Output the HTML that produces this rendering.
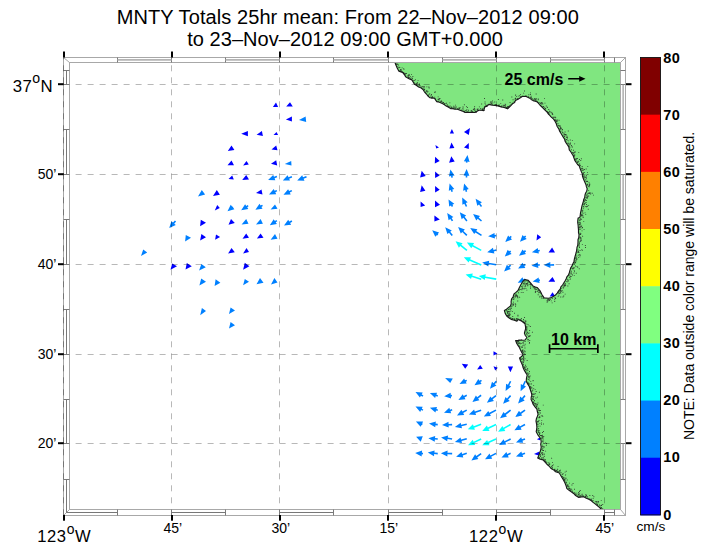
<!DOCTYPE html>
<html><head><meta charset="utf-8"><style>
html,body{margin:0;padding:0;background:#fff;}
body{width:703px;height:548px;position:relative;overflow:hidden;font-family:"Liberation Sans",sans-serif;color:#000;}
.t{position:absolute;white-space:nowrap;line-height:1;}
.sup{font-size:0.84em;position:relative;top:-0.6em;}
</style></head><body>
<svg width="703" height="548" viewBox="0 0 703 548" style="position:absolute;left:0;top:0">
<path d="M449.8,133.6L454.0,133.6L451.9,129.0Z M464.0,132.1L470.0,128.0L468.8,134.9Z M439.0,147.6L435.4,144.9L436.2,148.6Z M451.5,142.4L449.4,148.4L454.4,148.0Z M464.0,147.4L468.8,143.0L468.8,149.0Z M439.7,161.1L435.1,156.7L434.8,163.5Z M451.3,156.3L449.1,162.7L454.7,161.4Z M421.7,170.8L420.1,177.6L425.7,175.9Z M439.7,175.5L435.1,171.6L435.1,178.0Z M421.7,185.3L420.1,192.1L425.4,190.8Z M439.7,189.8L435.1,186.1L435.1,192.5Z M425.2,205.4L420.6,201.5L420.6,206.9Z M440.0,204.8L435.0,200.6L435.0,207.2Z M439.8,219.4L434.4,215.4L434.4,221.6Z M541.2,237.2L537.2,234.2L536.5,240.5Z M552.1,247.6L548.5,252.6L555.0,252.6Z M552.5,277.0L548.4,281.7L555.2,281.7Z M552.5,292.3L549.7,296.6L555.2,296.2Z M465.2,368.8L461.8,363.8L468.2,364.4Z M480.2,365.0L477.1,369.4L482.8,368.8Z M497.5,353.5L493.5,351.2L493.5,355.6Z M493.5,366.2L497.8,367.8L495.2,370.6Z M510.4,372.2L507.8,366.5L513.1,366.5Z M536.9,439.2L540.0,437.4L540.0,440.2Z M534.0,454.0L539.4,451.5L539.4,455.8Z M272.9,106.9L278.1,106.9L276.0,102.5Z M286.2,106.6L292.8,106.6L290.0,102.2Z M285.9,119.4L291.9,116.5L291.9,121.5Z M241.2,133.8L247.9,131.0L247.9,136.2Z M256.6,134.8L261.9,131.0L262.9,136.0Z M273.5,135.0L278.1,135.0L276.5,132.1Z M227.8,151.0L234.4,150.0L231.5,145.6Z M271.5,149.6L277.5,150.2L276.2,145.6Z M227.5,165.2L234.0,165.2L231.5,160.6Z M243.1,165.6L248.8,164.4L246.5,161.0Z M271.0,163.8L277.2,165.6L276.2,160.2Z M228.5,179.0L233.8,179.4L232.2,175.6Z M242.2,180.0L249.0,179.6L246.2,175.0Z M256.0,193.1L262.5,194.4L261.5,189.4Z M228.5,224.8L234.8,223.1L231.0,219.0Z M242.5,238.8L249.0,237.8L246.2,233.5Z M256.9,238.5L263.5,237.8L260.6,233.5Z M228.1,253.5L234.8,252.2L231.5,247.9Z M243.1,253.5L249.0,251.9L246.5,248.1Z M243.1,269.8L249.4,266.2L244.8,262.8Z M213.0,196.0L219.9,194.8L216.8,190.0Z M214.8,210.4L219.8,208.1L217.2,205.0Z M200.8,219.8L206.0,222.8L200.1,226.2Z M201.4,234.0L206.0,237.2L200.1,240.6Z M216.0,234.4L220.1,236.9L215.1,239.8Z M172.2,263.5L177.0,266.2L170.5,269.8Z M186.8,263.1L191.8,266.2L185.5,269.4Z" fill="#0000ff"/>
<path d="M467.4,162.8L467.5,161.6L469.6,161.9L467.5,155.0L463.9,161.2L466.0,161.5L465.8,162.6Z M452.9,177.4L452.6,175.8L454.6,175.4L450.4,169.5L448.9,176.6L451.0,176.1L451.3,177.8Z M467.3,177.6L467.3,175.7L469.4,175.7L466.6,169.1L463.6,175.6L465.7,175.7L465.7,177.6Z M452.9,191.4L452.3,189.6L454.3,189.0L449.6,183.6L448.8,190.8L450.8,190.1L451.4,191.9Z M467.2,191.5L466.7,189.7L468.7,189.1L464.1,183.6L463.1,190.7L465.2,190.1L465.7,191.9Z M453.2,206.1L452.4,204.7L454.3,203.7L448.5,199.4L449.2,206.5L451.0,205.5L451.8,206.9Z M467.2,206.2L465.8,203.1L467.7,202.2L462.2,197.5L462.4,204.7L464.3,203.8L465.8,206.8Z M482.1,206.0L480.2,203.5L481.9,202.3L475.6,198.8L477.3,205.8L479.0,204.5L480.9,207.0Z M453.2,220.4L451.6,218.1L453.4,217.0L447.2,213.1L448.6,220.2L450.3,219.0L451.8,221.3Z M467.5,220.4L464.6,216.8L466.2,215.5L459.8,212.2L461.7,219.2L463.3,217.8L466.3,221.4Z M482.0,220.4L478.7,217.6L480.0,216.0L473.1,214.0L476.3,220.5L477.7,218.8L481.0,221.6Z M438.3,234.4L437.8,234.0L439.1,232.4L432.2,230.2L435.3,236.8L436.7,235.2L437.2,235.6Z M452.9,234.9L450.2,231.7L451.8,230.4L445.2,227.2L447.4,234.1L449.0,232.8L451.6,235.9Z M467.4,234.8L463.4,230.9L464.9,229.4L458.1,226.9L460.8,233.6L462.3,232.0L466.3,235.9Z M481.9,234.7L476.2,231.0L477.4,229.3L470.2,228.1L474.2,234.1L475.4,232.4L481.1,236.0Z M496.2,234.8L494.6,234.9L494.5,232.9L488.1,236.2L494.9,238.6L494.8,236.5L496.3,236.4Z M496.1,249.2L493.5,249.9L492.9,247.8L487.2,252.2L494.4,253.5L493.8,251.4L496.4,250.8Z M496.4,264.0L488.9,262.8L489.2,260.7L482.2,262.5L488.3,266.4L488.6,264.3L496.1,265.5Z M510.7,235.8L509.5,236.9L508.1,235.4L505.2,242.0L512.0,239.6L510.6,238.1L511.8,237.0Z M525.1,235.4L524.0,236.5L522.5,235.0L520.0,241.8L526.7,239.1L525.2,237.6L526.2,236.6Z M510.1,250.4L509.1,251.3L507.7,249.8L504.8,256.4L511.6,254.1L510.2,252.5L511.2,251.6Z M525.1,250.1L523.8,251.1L522.5,249.5L519.0,255.8L526.0,254.1L524.7,252.4L526.1,251.4Z M539.6,249.7L538.1,250.0L537.7,248.0L531.9,252.2L538.9,253.6L538.5,251.6L539.9,251.3Z M510.1,264.5L508.3,266.2L506.9,264.7L504.1,271.4L510.9,268.9L509.4,267.4L511.2,265.7Z M525.0,263.8L523.5,264.6L522.5,262.8L518.1,268.5L525.3,267.9L524.3,266.0L525.8,265.2Z M539.7,264.1L538.0,264.3L537.8,262.2L531.5,265.8L538.4,267.9L538.1,265.8L539.8,265.7Z M554.1,264.1L550.3,264.2L550.3,262.1L543.8,265.1L550.4,267.9L550.4,265.8L554.1,265.7Z M525.0,278.4L523.3,279.2L522.4,277.3L517.7,282.7L524.9,282.5L524.0,280.6L525.7,279.8Z M539.7,279.3L538.9,279.5L538.6,277.4L532.6,281.5L539.6,283.1L539.2,281.0L540.0,280.9Z M450.2,383.1L445.1,378.1L452.8,378.5Z M466.4,379.7L465.0,380.3L464.1,378.5L459.5,384.0L466.7,383.6L465.8,381.8L467.1,381.1Z M481.0,379.7L479.5,380.8L478.3,379.1L474.5,385.2L481.6,383.9L480.4,382.1L482.0,381.0Z M423.4,395.3L421.7,394.4L422.7,392.5L415.5,391.9L419.9,397.6L420.9,395.8L422.6,396.7Z M438.0,395.2L436.3,394.6L437.1,392.7L429.9,393.1L435.1,398.1L435.8,396.1L437.5,396.8Z M451.9,394.8L450.8,394.9L450.6,392.8L444.2,396.2L451.1,398.6L450.9,396.5L452.1,396.4Z M466.4,394.6L463.7,396.0L462.7,394.2L458.4,400.0L465.5,399.3L464.5,397.4L467.1,395.9Z M480.6,394.6L477.2,397.3L475.9,395.6L472.4,401.9L479.4,400.2L478.1,398.5L481.6,395.9Z M423.3,409.4L421.8,408.7L422.7,406.8L415.5,406.5L420.2,412.0L421.1,410.1L422.7,410.8Z M438.0,409.4L436.4,408.9L437.0,406.9L429.9,407.8L435.4,412.4L436.0,410.4L437.5,410.9Z M451.9,409.1L450.0,409.8L449.3,407.8L444.0,412.8L451.2,413.3L450.5,411.3L452.4,410.6Z M466.4,409.4L462.4,411.6L461.4,409.8L457.0,415.5L464.2,414.9L463.2,413.0L467.1,410.8Z M480.9,409.4L474.8,411.5L474.1,409.5L468.9,414.5L476.1,415.0L475.4,413.0L481.4,410.9Z M422.7,423.8L422.2,423.5L423.1,421.6L415.9,421.4L420.6,426.8L421.5,425.0L422.0,425.2Z M437.8,423.8L435.6,423.6L435.9,421.5L429.0,423.6L435.2,427.3L435.5,425.2L437.7,425.4Z M452.1,423.8L448.6,423.9L448.5,421.8L442.0,424.9L448.7,427.6L448.6,425.5L452.1,425.4Z M466.6,423.5L461.1,424.7L460.7,422.7L454.9,427.0L462.0,428.3L461.5,426.3L466.9,425.0Z M422.0,438.3L422.0,438.3L422.8,436.3L416.1,436.8L420.7,441.7L421.5,439.7L421.5,439.7Z M437.8,438.2L435.0,438.0L435.2,435.9L428.4,438.2L434.7,441.7L434.9,439.6L437.7,439.8Z M452.2,438.2L447.8,437.5L448.1,435.5L441.1,437.4L447.2,441.2L447.5,439.1L452.0,439.8Z M466.5,438.1L461.1,439.5L460.5,437.5L454.9,442.0L462.0,443.1L461.5,441.1L467.0,439.6Z M423.1,452.8L421.9,452.7L422.1,450.6L415.2,453.0L421.6,456.4L421.8,454.3L422.9,454.4Z M437.8,452.8L434.4,452.5L434.6,450.4L427.8,452.6L434.0,456.2L434.2,454.1L437.7,454.4Z M452.2,452.8L447.5,452.7L447.6,450.6L440.9,453.2L447.4,456.4L447.4,454.3L452.1,454.4Z M466.5,452.6L462.2,454.0L461.5,452.0L456.1,456.8L463.3,457.5L462.7,455.5L467.0,454.1Z M480.7,453.0L476.3,456.0L475.1,454.3L471.4,460.5L478.4,459.1L477.2,457.4L481.6,454.3Z M495.6,380.7L493.6,383.2L492.0,381.8L490.0,388.8L496.5,385.5L494.8,384.2L496.9,381.8Z M509.9,380.9L507.9,384.8L506.1,383.8L505.6,391.0L511.2,386.5L509.3,385.5L511.3,381.6Z M524.5,380.9L522.7,384.9L520.8,384.0L520.6,391.2L526.0,386.5L524.1,385.6L526.0,381.6Z M495.5,395.0L491.6,398.1L490.3,396.4L486.9,402.8L493.9,401.0L492.6,399.3L496.5,396.3Z M510.0,395.1L507.0,398.4L505.5,396.9L503.1,403.8L509.7,400.9L508.2,399.4L511.2,396.2Z M524.4,395.1L521.9,398.0L520.3,396.6L518.1,403.5L524.7,400.4L523.1,399.1L525.6,396.2Z M495.6,409.4L489.2,412.7L488.3,410.9L483.8,416.5L490.9,416.0L490.0,414.2L496.4,410.8Z M510.1,409.5L504.8,413.6L503.5,411.9L500.0,418.2L507.0,416.5L505.7,414.9L511.1,410.8Z M524.5,409.5L520.2,412.5L519.0,410.8L515.2,417.0L522.3,415.6L521.1,413.9L525.5,410.8Z M524.6,423.8L519.8,426.4L518.8,424.6L514.4,430.2L521.6,429.7L520.6,427.8L525.4,425.2Z M510.3,438.3L504.5,441.2L503.6,439.3L499.0,444.9L506.2,444.5L505.3,442.6L511.0,439.7Z M524.7,438.3L521.9,439.3L521.2,437.3L516.0,442.4L523.2,442.8L522.5,440.8L525.3,439.7Z M495.6,452.7L490.4,455.4L489.5,453.6L485.0,459.2L492.2,458.7L491.2,456.8L496.4,454.1Z M510.3,452.6L507.2,454.0L506.4,452.1L501.5,457.4L508.7,457.4L507.9,455.5L510.9,454.1Z M524.7,452.6L522.0,453.6L521.3,451.6L516.0,456.5L523.2,457.1L522.5,455.1L525.3,454.1Z M299.0,120.0L305.6,116.5L306.2,121.9Z M284.8,164.0L291.2,161.0L291.5,165.6Z M276.6,175.8L274.0,176.8L273.2,174.9L268.1,180.0L275.3,180.2L274.6,178.3L277.2,177.2Z M291.6,175.9L288.5,177.2L287.6,175.3L282.8,180.6L290.0,180.6L289.1,178.7L292.2,177.4Z M306.2,175.9L303.0,177.3L302.2,175.3L297.2,180.6L304.5,180.7L303.6,178.7L306.8,177.4Z M276.5,189.9L274.6,190.8L273.7,188.9L269.0,194.4L276.2,194.2L275.3,192.3L277.2,191.3Z M291.5,189.9L289.1,191.1L288.1,189.2L283.5,194.8L290.7,194.4L289.8,192.6L292.2,191.3Z M232.2,206.3L232.1,206.4L230.7,204.8L227.5,211.2L234.4,209.3L233.1,207.6L233.3,207.5Z M247.7,205.0L246.3,205.9L245.1,204.2L241.2,210.2L248.3,209.0L247.2,207.2L248.6,206.3Z M262.1,204.7L260.6,205.6L259.5,203.8L255.4,209.8L262.5,208.8L261.4,207.0L262.9,206.1Z M270.6,209.4L277.5,208.8L275.0,204.4Z M241.6,224.4L248.5,223.8L246.2,219.0Z M256.0,224.4L262.9,223.8L260.6,219.0Z M276.4,220.0L274.9,221.0L273.7,219.2L269.8,225.2L276.9,224.1L275.7,222.3L277.3,221.3Z M291.5,220.3L289.3,221.6L288.2,219.8L284.0,225.6L291.2,224.8L290.1,223.0L292.3,221.7Z M270.6,239.8L277.5,238.8L275.0,234.0Z M198.0,196.5L205.1,194.4L201.8,190.0Z M174.9,220.5L173.0,222.6L171.4,221.3L169.2,228.1L175.8,225.1L174.2,223.7L176.1,221.5Z M185.8,235.0L191.0,237.8L185.1,241.5Z M143.2,249.4L147.2,252.5L141.0,256.0Z M201.4,264.0L205.8,267.2L199.1,270.6Z M199.4,285.5L201.2,278.6L206.0,281.8Z M214.6,286.1L215.6,279.2L220.4,282.8Z M243.1,285.2L244.8,279.0L249.0,281.8Z M256.5,284.2L260.0,278.0L263.5,282.8Z M271.0,284.5L274.4,278.0L277.5,282.4Z M200.2,315.2L201.9,308.0L206.0,311.1Z M229.0,314.0L230.6,307.4L235.0,310.5Z M229.0,328.6L230.6,322.0L235.0,325.2Z" fill="#0080ff"/>
<path d="M467.4,249.8L461.3,244.8L462.6,243.2L455.6,241.2L458.9,247.7L460.2,246.0L466.4,251.0Z M481.6,249.7L473.0,245.0L474.1,243.1L466.9,242.5L471.3,248.2L472.3,246.4L480.9,251.1Z M481.6,264.3L470.1,259.2L471.0,257.3L463.8,257.2L468.6,262.6L469.5,260.7L480.9,265.7Z M481.5,278.6L472.2,275.6L472.8,273.6L465.6,274.4L471.0,279.1L471.7,277.1L481.0,280.1Z M496.4,278.3L485.4,276.4L485.8,274.3L478.8,276.0L484.7,280.0L485.1,277.9L496.1,279.9Z M480.8,423.5L473.7,426.2L472.9,424.2L467.8,429.2L474.9,429.7L474.2,427.7L481.4,425.0Z M480.8,438.3L473.6,441.7L472.7,439.8L468.0,445.2L475.2,445.0L474.3,443.1L481.5,439.7Z M495.7,423.8L487.8,427.5L486.9,425.6L482.2,431.1L489.5,430.9L488.5,429.0L496.3,425.2Z M510.2,423.8L503.4,427.7L502.4,425.9L498.1,431.8L505.3,430.9L504.2,429.1L511.0,425.2Z M495.7,438.3L487.9,441.8L487.1,439.9L482.2,445.2L489.5,445.2L488.6,443.2L496.3,439.7Z" fill="#00ffff"/>
<clipPath id="mapclip"><rect x="69.5" y="62.5" width="551.0" height="447.0"/></clipPath>
<g clip-path="url(#mapclip)">
<polygon points="395.0,62.5 395.9,65.0 396.9,67.4 398.8,71.1 402.5,72.4 404.4,74.5 405.6,76.8 407.7,77.9 409.5,78.9 411.9,79.9 413.3,82.3 414.4,84.2 416.3,85.3 418.6,87.0 421.2,88.0 423.0,89.5 424.4,91.8 426.4,94.0 427.5,95.5 430.0,97.8 432.3,98.1 434.4,98.2 436.9,101.8 438.8,101.9 441.2,103.0 443.8,104.2 446.2,106.1 448.1,107.1 450.6,108.6 452.5,108.8 455.1,109.3 457.5,109.2 460.0,110.3 462.5,111.1 465.0,112.4 468.1,112.5 471.2,112.4 475.0,112.5 478.8,110.2 481.2,110.2 483.8,110.6 484.8,106.9 487.2,106.1 488.8,104.4 492.2,105.1 495.0,105.4 498.0,105.9 501.2,106.9 504.2,107.4 507.5,108.8 509.4,107.0 511.1,105.3 512.5,103.8 514.6,102.6 515.4,100.6 517.5,99.4 520.4,97.8 522.5,96.2 526.2,96.5 529.2,97.9 531.2,99.4 533.1,100.6 536.1,101.4 538.1,102.8 539.9,105.0 542.5,107.5 545.0,110.0 547.1,112.1 548.0,113.5 550.0,115.6 551.3,117.1 553.6,119.1 555.0,121.2 556.3,123.7 557.2,126.5 558.8,128.8 559.5,130.9 560.6,132.8 561.8,134.7 563.1,136.9 564.6,139.2 565.1,141.3 566.1,142.9 567.5,145.0 568.9,147.3 569.3,149.8 570.5,151.3 571.9,153.8 573.2,155.8 573.9,157.7 574.8,160.4 576.2,162.5 577.6,164.5 579.4,166.2 580.2,168.7 581.2,171.2 582.3,173.7 582.5,176.2 583.4,178.7 583.9,180.1 585.0,182.5 586.1,184.9 586.3,186.4 587.2,188.8 586.7,191.2 585.5,193.3 585.0,195.0 584.7,197.6 583.7,199.6 583.1,202.5 582.1,205.4 581.6,207.7 581.2,210.0 580.5,212.8 580.3,214.8 579.8,217.5 578.1,218.1 577.8,220.6 577.7,222.5 578.1,225.0 578.3,227.8 578.5,229.8 578.5,232.5 579.0,234.7 578.8,237.5 578.0,239.8 578.0,242.1 577.8,245.0 577.0,247.4 576.8,249.7 576.2,252.5 575.2,256.0 574.4,258.8 574.0,261.4 572.9,263.8 571.9,266.2 570.7,267.9 569.8,270.8 569.4,272.5 568.5,275.0 566.9,276.8 566.2,278.8 565.0,281.0 563.6,283.4 562.5,285.0 560.9,286.9 560.2,289.1 558.8,290.6 557.2,293.1 555.2,295.3 551.5,297.6 548.4,298.3 544.1,297.9 541.9,294.5 539.9,290.6 537.3,287.5 535.4,287.1 533.0,285.9 530.5,283.0 528.3,280.4 524.9,279.5 522.8,281.5 521.1,284.2 519.4,287.6 518.0,290.5 515.9,292.4 514.0,294.0 513.1,296.8 511.5,299.0 511.1,301.6 511.2,303.7 510.5,306.0 508.6,307.4 506.5,309.2 504.4,310.6 505.3,313.6 506.9,316.2 509.5,318.2 511.2,319.4 514.3,320.2 516.9,321.2 518.1,319.4 521.9,321.2 525.0,323.8 525.5,326.3 525.6,328.8 524.9,331.2 524.4,333.1 525.3,335.5 526.9,337.5 525.0,340.0 522.2,340.2 520.3,340.1 518.1,340.4 515.6,340.6 516.9,343.8 518.3,346.0 519.4,347.5 520.2,349.3 521.5,352.0 523.2,355.0 521.2,356.7 519.6,358.0 520.3,360.2 521.5,363.0 522.6,365.4 523.0,367.5 524.4,370.4 525.7,372.6 527.2,375.0 526.5,378.1 526.2,381.2 527.8,384.1 529.1,386.1 530.0,388.8 531.0,391.7 531.9,395.0 531.2,397.2 531.1,399.5 532.4,402.2 533.1,404.2 535.2,407.2 536.9,409.2 537.3,411.5 538.1,414.2 537.4,416.3 536.4,418.7 536.0,421.1 536.6,424.2 536.9,427.4 536.2,431.8 537.7,434.6 539.4,436.8 540.8,439.2 541.2,441.8 540.7,444.2 541.2,447.2 540.6,450.5 539.4,453.5 538.7,455.8 537.7,458.0 540.2,459.2 543.1,459.9 544.6,461.7 546.9,464.2 549.0,466.0 551.2,468.6 553.7,469.9 555.6,471.8 559.4,473.0 560.3,474.8 561.9,477.4 563.6,480.2 565.0,483.0 566.1,485.9 566.9,488.6 569.4,490.6 571.2,491.8 573.6,493.4 575.6,495.5 578.8,497.4 581.2,496.8 583.8,496.8 585.8,498.0 588.8,499.2 591.1,500.5 593.1,502.4 595.1,503.9 597.5,505.8 599.7,507.6 601.5,509.5 620.5,509.5 620.5,62.5" fill="#80e680" stroke="none"/>
<path d="M397.1,62.4h.9v.9h-.9z M396.3,63.7h.9v.9h-.9z M396.1,64.3h.9v.9h-.9z M397.0,66.4h.9v.9h-.9z M398.5,66.8h.9v.9h-.9z M398.5,61.1h.9v.9h-.9z M396.5,62.4h.9v.9h-.9z M398.1,64.6h.9v.9h-.9z M395.4,62.7h.9v.9h-.9z M396.9,64.1h.9v.9h-.9z M400.4,69.3h.9v.9h-.9z M401.7,67.4h.9v.9h-.9z M399.3,70.9h.9v.9h-.9z M398.3,67.4h.9v.9h-.9z M400.4,69.2h.9v.9h-.9z M400.1,69.0h.9v.9h-.9z M403.3,68.2h.9v.9h-.9z M399.4,66.9h.9v.9h-.9z M400.4,69.8h.9v.9h-.9z M400.4,70.6h.9v.9h-.9z M401.7,71.3h.9v.9h-.9z M402.2,71.7h.9v.9h-.9z M403.5,68.9h.9v.9h-.9z M401.0,70.8h.9v.9h-.9z M399.4,70.3h.9v.9h-.9z M401.0,69.4h.9v.9h-.9z M405.6,73.0h.9v.9h-.9z M406.0,73.0h.9v.9h-.9z M408.1,74.8h.9v.9h-.9z M404.5,73.4h.9v.9h-.9z M403.0,72.0h.9v.9h-.9z M403.6,73.3h.9v.9h-.9z M403.5,72.4h.9v.9h-.9z M404.8,74.5h.9v.9h-.9z M404.5,74.0h.9v.9h-.9z M404.9,73.2h.9v.9h-.9z M408.6,74.1h.9v.9h-.9z M412.1,78.2h.9v.9h-.9z M406.9,75.5h.9v.9h-.9z M410.3,77.8h.9v.9h-.9z M411.5,77.4h.9v.9h-.9z M408.9,74.8h.9v.9h-.9z M412.4,76.0h.9v.9h-.9z M409.0,76.9h.9v.9h-.9z M408.0,77.1h.9v.9h-.9z M411.1,73.9h.9v.9h-.9z M408.1,76.8h.9v.9h-.9z M408.2,75.7h.9v.9h-.9z M409.9,75.9h.9v.9h-.9z M417.1,82.3h.9v.9h-.9z M414.9,79.3h.9v.9h-.9z M415.4,83.8h.9v.9h-.9z M414.1,82.4h.9v.9h-.9z M416.7,82.5h.9v.9h-.9z M416.2,83.0h.9v.9h-.9z M413.1,80.3h.9v.9h-.9z M417.6,79.9h.9v.9h-.9z M414.5,82.9h.9v.9h-.9z M414.0,79.9h.9v.9h-.9z M421.2,86.6h.9v.9h-.9z M421.6,86.4h.9v.9h-.9z M418.5,84.7h.9v.9h-.9z M416.1,84.2h.9v.9h-.9z M419.0,83.5h.9v.9h-.9z M419.1,84.2h.9v.9h-.9z M418.5,85.7h.9v.9h-.9z M419.0,84.8h.9v.9h-.9z M418.5,84.1h.9v.9h-.9z M419.9,85.5h.9v.9h-.9z M422.4,85.9h.9v.9h-.9z M417.4,83.8h.9v.9h-.9z M415.6,83.8h.9v.9h-.9z M416.5,84.8h.9v.9h-.9z M423.9,86.6h.9v.9h-.9z M428.7,87.6h.9v.9h-.9z M424.1,88.7h.9v.9h-.9z M422.9,87.5h.9v.9h-.9z M422.9,87.6h.9v.9h-.9z M423.7,89.0h.9v.9h-.9z M424.2,89.6h.9v.9h-.9z M428.4,86.5h.9v.9h-.9z M423.5,85.9h.9v.9h-.9z M426.4,86.4h.9v.9h-.9z M428.9,93.6h.9v.9h-.9z M426.4,90.0h.9v.9h-.9z M429.3,93.5h.9v.9h-.9z M427.8,94.5h.9v.9h-.9z M427.2,91.6h.9v.9h-.9z M426.0,90.8h.9v.9h-.9z M425.1,91.8h.9v.9h-.9z M427.4,91.0h.9v.9h-.9z M425.5,91.4h.9v.9h-.9z M430.3,95.7h.9v.9h-.9z M430.6,97.0h.9v.9h-.9z M431.0,94.0h.9v.9h-.9z M434.0,91.8h.9v.9h-.9z M430.7,95.3h.9v.9h-.9z M427.8,95.3h.9v.9h-.9z M431.1,97.5h.9v.9h-.9z M432.9,96.9h.9v.9h-.9z M432.1,97.0h.9v.9h-.9z M435.0,91.5h.9v.9h-.9z M434.3,96.7h.9v.9h-.9z M431.9,96.1h.9v.9h-.9z M432.1,97.2h.9v.9h-.9z M431.4,97.2h.9v.9h-.9z M437.5,99.4h.9v.9h-.9z M439.4,98.2h.9v.9h-.9z M437.7,101.4h.9v.9h-.9z M437.7,96.4h.9v.9h-.9z M438.7,98.9h.9v.9h-.9z M438.8,98.2h.9v.9h-.9z M439.5,98.0h.9v.9h-.9z M435.1,98.6h.9v.9h-.9z M441.2,101.1h.9v.9h-.9z M439.9,101.3h.9v.9h-.9z M440.6,101.2h.9v.9h-.9z M437.8,98.8h.9v.9h-.9z M438.6,99.7h.9v.9h-.9z M441.5,101.4h.9v.9h-.9z M440.8,99.9h.9v.9h-.9z M437.3,101.3h.9v.9h-.9z M444.0,104.1h.9v.9h-.9z M446.1,102.8h.9v.9h-.9z M444.6,103.0h.9v.9h-.9z M446.6,105.4h.9v.9h-.9z M442.4,102.1h.9v.9h-.9z M443.8,103.9h.9v.9h-.9z M443.1,102.0h.9v.9h-.9z M446.7,105.3h.9v.9h-.9z M446.8,103.9h.9v.9h-.9z M443.6,104.0h.9v.9h-.9z M443.8,103.3h.9v.9h-.9z M450.4,108.0h.9v.9h-.9z M449.4,102.4h.9v.9h-.9z M448.1,106.1h.9v.9h-.9z M449.4,106.3h.9v.9h-.9z M447.1,105.5h.9v.9h-.9z M450.6,107.6h.9v.9h-.9z M448.1,105.8h.9v.9h-.9z M451.2,106.6h.9v.9h-.9z M449.6,105.4h.9v.9h-.9z M455.8,106.5h.9v.9h-.9z M457.0,108.3h.9v.9h-.9z M453.3,105.8h.9v.9h-.9z M455.3,107.8h.9v.9h-.9z M451.6,108.2h.9v.9h-.9z M454.4,108.4h.9v.9h-.9z M453.5,107.8h.9v.9h-.9z M452.8,108.0h.9v.9h-.9z M455.1,104.7h.9v.9h-.9z M453.5,107.0h.9v.9h-.9z M451.5,107.3h.9v.9h-.9z M454.6,106.5h.9v.9h-.9z M452.5,107.8h.9v.9h-.9z M462.8,106.7h.9v.9h-.9z M462.5,106.6h.9v.9h-.9z M458.3,108.2h.9v.9h-.9z M463.9,104.3h.9v.9h-.9z M459.0,108.2h.9v.9h-.9z M462.1,108.4h.9v.9h-.9z M460.7,109.5h.9v.9h-.9z M462.7,108.5h.9v.9h-.9z M459.7,107.3h.9v.9h-.9z M458.5,107.6h.9v.9h-.9z M458.9,107.6h.9v.9h-.9z M466.2,110.3h.9v.9h-.9z M463.9,110.7h.9v.9h-.9z M463.5,111.2h.9v.9h-.9z M464.1,111.1h.9v.9h-.9z M463.2,110.8h.9v.9h-.9z M466.4,109.2h.9v.9h-.9z M466.1,106.2h.9v.9h-.9z M466.7,111.3h.9v.9h-.9z M470.7,110.5h.9v.9h-.9z M468.0,109.8h.9v.9h-.9z M467.8,111.2h.9v.9h-.9z M465.2,112.1h.9v.9h-.9z M470.9,110.0h.9v.9h-.9z M467.4,111.7h.9v.9h-.9z M465.1,109.9h.9v.9h-.9z M466.7,111.4h.9v.9h-.9z M466.9,107.0h.9v.9h-.9z M472.9,109.0h.9v.9h-.9z M471.4,111.2h.9v.9h-.9z M472.3,110.8h.9v.9h-.9z M473.1,108.7h.9v.9h-.9z M471.7,111.6h.9v.9h-.9z M474.0,107.9h.9v.9h-.9z M474.7,110.5h.9v.9h-.9z M476.0,111.8h.9v.9h-.9z M474.2,106.2h.9v.9h-.9z M474.1,106.3h.9v.9h-.9z M475.2,111.0h.9v.9h-.9z M474.2,109.6h.9v.9h-.9z M476.7,108.8h.9v.9h-.9z M474.4,108.8h.9v.9h-.9z M477.0,109.6h.9v.9h-.9z M481.2,103.6h.9v.9h-.9z M479.8,109.7h.9v.9h-.9z M482.2,108.9h.9v.9h-.9z M482.2,108.3h.9v.9h-.9z M482.4,109.6h.9v.9h-.9z M481.9,108.9h.9v.9h-.9z M479.8,109.7h.9v.9h-.9z M481.6,109.7h.9v.9h-.9z M481.6,109.6h.9v.9h-.9z M483.7,110.2h.9v.9h-.9z M483.9,106.8h.9v.9h-.9z M477.6,108.5h.9v.9h-.9z M480.3,108.0h.9v.9h-.9z M478.9,106.4h.9v.9h-.9z M483.4,107.8h.9v.9h-.9z M483.1,109.7h.9v.9h-.9z M483.3,109.9h.9v.9h-.9z M482.6,109.9h.9v.9h-.9z M484.6,106.2h.9v.9h-.9z M486.7,104.9h.9v.9h-.9z M485.7,105.3h.9v.9h-.9z M484.9,104.4h.9v.9h-.9z M484.1,98.1h.9v.9h-.9z M486.8,104.6h.9v.9h-.9z M484.6,103.2h.9v.9h-.9z M485.8,105.1h.9v.9h-.9z M484.6,101.5h.9v.9h-.9z M491.9,104.2h.9v.9h-.9z M494.6,104.9h.9v.9h-.9z M494.6,104.9h.9v.9h-.9z M494.7,104.1h.9v.9h-.9z M492.0,100.6h.9v.9h-.9z M490.0,101.4h.9v.9h-.9z M494.3,101.6h.9v.9h-.9z M491.4,102.8h.9v.9h-.9z M491.0,101.6h.9v.9h-.9z M492.4,102.4h.9v.9h-.9z M489.9,102.6h.9v.9h-.9z M491.0,103.2h.9v.9h-.9z M497.8,104.7h.9v.9h-.9z M498.5,105.4h.9v.9h-.9z M498.0,105.0h.9v.9h-.9z M495.8,104.1h.9v.9h-.9z M498.4,105.3h.9v.9h-.9z M500.3,103.2h.9v.9h-.9z M498.8,104.6h.9v.9h-.9z M502.3,99.6h.9v.9h-.9z M497.9,99.0h.9v.9h-.9z M501.1,106.3h.9v.9h-.9z M495.9,104.0h.9v.9h-.9z M501.1,105.4h.9v.9h-.9z M507.1,107.7h.9v.9h-.9z M503.1,106.7h.9v.9h-.9z M508.1,106.0h.9v.9h-.9z M506.4,107.8h.9v.9h-.9z M504.7,103.8h.9v.9h-.9z M507.4,108.0h.9v.9h-.9z M504.4,104.9h.9v.9h-.9z M505.4,106.7h.9v.9h-.9z M502.8,104.8h.9v.9h-.9z M503.9,105.3h.9v.9h-.9z M505.3,106.7h.9v.9h-.9z M502.7,105.1h.9v.9h-.9z M507.6,107.0h.9v.9h-.9z M506.3,107.7h.9v.9h-.9z M507.3,106.0h.9v.9h-.9z M509.2,104.9h.9v.9h-.9z M507.8,107.1h.9v.9h-.9z M509.6,102.0h.9v.9h-.9z M506.0,107.0h.9v.9h-.9z M510.0,104.7h.9v.9h-.9z M505.2,104.4h.9v.9h-.9z M508.5,106.3h.9v.9h-.9z M506.6,107.1h.9v.9h-.9z M507.0,106.4h.9v.9h-.9z M510.8,103.9h.9v.9h-.9z M505.0,105.7h.9v.9h-.9z M514.8,98.1h.9v.9h-.9z M513.8,100.9h.9v.9h-.9z M512.1,102.8h.9v.9h-.9z M514.8,98.1h.9v.9h-.9z M512.6,99.3h.9v.9h-.9z M511.4,96.6h.9v.9h-.9z M511.7,103.1h.9v.9h-.9z M515.2,97.8h.9v.9h-.9z M513.8,101.7h.9v.9h-.9z M514.8,98.9h.9v.9h-.9z M515.3,98.1h.9v.9h-.9z M514.7,98.9h.9v.9h-.9z M515.1,94.9h.9v.9h-.9z M515.2,94.6h.9v.9h-.9z M517.5,98.9h.9v.9h-.9z M519.2,94.9h.9v.9h-.9z M517.8,95.7h.9v.9h-.9z M516.1,96.2h.9v.9h-.9z M517.2,97.9h.9v.9h-.9z M520.1,94.2h.9v.9h-.9z M519.8,96.2h.9v.9h-.9z M520.7,96.2h.9v.9h-.9z M516.9,98.7h.9v.9h-.9z M524.1,90.5h.9v.9h-.9z M524.8,95.8h.9v.9h-.9z M525.6,95.3h.9v.9h-.9z M523.2,92.7h.9v.9h-.9z M522.9,96.0h.9v.9h-.9z M526.2,96.0h.9v.9h-.9z M525.5,95.5h.9v.9h-.9z M530.1,92.4h.9v.9h-.9z M530.3,97.2h.9v.9h-.9z M528.4,94.3h.9v.9h-.9z M529.9,97.2h.9v.9h-.9z M531.3,98.1h.9v.9h-.9z M528.1,96.2h.9v.9h-.9z M530.0,94.0h.9v.9h-.9z M530.6,95.7h.9v.9h-.9z M528.3,96.8h.9v.9h-.9z M530.7,95.9h.9v.9h-.9z M530.8,97.0h.9v.9h-.9z M533.1,99.6h.9v.9h-.9z M537.1,101.3h.9v.9h-.9z M534.0,98.8h.9v.9h-.9z M535.7,93.6h.9v.9h-.9z M538.0,102.4h.9v.9h-.9z M537.8,99.4h.9v.9h-.9z M535.7,100.8h.9v.9h-.9z M532.3,98.4h.9v.9h-.9z M535.6,98.8h.9v.9h-.9z M536.2,100.5h.9v.9h-.9z M535.3,99.0h.9v.9h-.9z M534.3,98.0h.9v.9h-.9z M537.8,98.5h.9v.9h-.9z M535.0,99.6h.9v.9h-.9z M535.7,98.1h.9v.9h-.9z M541.2,103.6h.9v.9h-.9z M544.5,102.7h.9v.9h-.9z M542.5,105.9h.9v.9h-.9z M539.3,101.9h.9v.9h-.9z M543.2,106.1h.9v.9h-.9z M542.4,103.6h.9v.9h-.9z M543.0,105.9h.9v.9h-.9z M540.7,102.3h.9v.9h-.9z M544.0,97.9h.9v.9h-.9z M539.9,103.1h.9v.9h-.9z M541.7,102.8h.9v.9h-.9z M541.5,101.9h.9v.9h-.9z M545.2,108.3h.9v.9h-.9z M546.9,107.1h.9v.9h-.9z M544.9,108.1h.9v.9h-.9z M546.8,106.7h.9v.9h-.9z M544.2,107.2h.9v.9h-.9z M545.8,105.6h.9v.9h-.9z M547.4,112.0h.9v.9h-.9z M547.0,110.9h.9v.9h-.9z M548.9,110.8h.9v.9h-.9z M552.1,112.9h.9v.9h-.9z M551.6,113.3h.9v.9h-.9z M548.2,113.6h.9v.9h-.9z M548.7,112.7h.9v.9h-.9z M548.3,109.0h.9v.9h-.9z M551.6,113.3h.9v.9h-.9z M550.5,111.7h.9v.9h-.9z M551.4,112.2h.9v.9h-.9z M549.7,111.4h.9v.9h-.9z M548.3,112.1h.9v.9h-.9z M547.9,112.1h.9v.9h-.9z M554.1,116.8h.9v.9h-.9z M555.4,119.4h.9v.9h-.9z M555.1,119.9h.9v.9h-.9z M552.2,114.2h.9v.9h-.9z M555.2,117.3h.9v.9h-.9z M556.2,120.3h.9v.9h-.9z M552.3,113.9h.9v.9h-.9z M555.2,119.6h.9v.9h-.9z M554.5,119.3h.9v.9h-.9z M555.2,116.7h.9v.9h-.9z M553.1,116.8h.9v.9h-.9z M556.8,119.4h.9v.9h-.9z M552.5,116.8h.9v.9h-.9z M554.5,120.0h.9v.9h-.9z M555.8,120.9h.9v.9h-.9z M560.5,127.5h.9v.9h-.9z M560.4,127.2h.9v.9h-.9z M559.6,125.3h.9v.9h-.9z M559.1,125.2h.9v.9h-.9z M556.4,122.7h.9v.9h-.9z M558.9,125.8h.9v.9h-.9z M557.9,125.0h.9v.9h-.9z M557.6,123.3h.9v.9h-.9z M556.6,120.5h.9v.9h-.9z M560.1,126.4h.9v.9h-.9z M556.3,121.1h.9v.9h-.9z M560.0,127.6h.9v.9h-.9z M557.9,125.3h.9v.9h-.9z M556.9,120.6h.9v.9h-.9z M558.6,119.8h.9v.9h-.9z M562.0,129.1h.9v.9h-.9z M564.7,134.0h.9v.9h-.9z M561.2,128.4h.9v.9h-.9z M564.1,136.1h.9v.9h-.9z M559.4,128.8h.9v.9h-.9z M560.3,128.6h.9v.9h-.9z M563.6,134.9h.9v.9h-.9z M562.7,132.5h.9v.9h-.9z M563.5,134.8h.9v.9h-.9z M562.0,131.9h.9v.9h-.9z M563.7,133.9h.9v.9h-.9z M565.5,135.3h.9v.9h-.9z M567.8,130.5h.9v.9h-.9z M561.7,130.5h.9v.9h-.9z M563.9,133.6h.9v.9h-.9z M560.2,130.8h.9v.9h-.9z M564.6,131.6h.9v.9h-.9z M565.6,134.0h.9v.9h-.9z M569.9,142.6h.9v.9h-.9z M565.2,139.6h.9v.9h-.9z M566.8,136.9h.9v.9h-.9z M567.9,140.4h.9v.9h-.9z M567.0,137.6h.9v.9h-.9z M566.6,135.8h.9v.9h-.9z M569.8,139.5h.9v.9h-.9z M566.7,139.6h.9v.9h-.9z M566.0,137.2h.9v.9h-.9z M566.1,139.0h.9v.9h-.9z M568.3,144.5h.9v.9h-.9z M567.3,142.8h.9v.9h-.9z M565.5,141.2h.9v.9h-.9z M568.4,142.9h.9v.9h-.9z M568.2,142.7h.9v.9h-.9z M571.9,140.2h.9v.9h-.9z M564.4,137.8h.9v.9h-.9z M573.1,152.3h.9v.9h-.9z M569.5,144.3h.9v.9h-.9z M572.7,153.1h.9v.9h-.9z M573.8,152.3h.9v.9h-.9z M574.2,143.4h.9v.9h-.9z M568.4,145.2h.9v.9h-.9z M574.3,151.5h.9v.9h-.9z M573.0,149.8h.9v.9h-.9z M571.1,145.1h.9v.9h-.9z M570.8,146.4h.9v.9h-.9z M569.5,147.4h.9v.9h-.9z M568.8,146.2h.9v.9h-.9z M569.7,143.5h.9v.9h-.9z M572.8,153.0h.9v.9h-.9z M572.0,152.1h.9v.9h-.9z M574.9,151.5h.9v.9h-.9z M572.1,146.5h.9v.9h-.9z M568.6,146.0h.9v.9h-.9z M570.9,149.3h.9v.9h-.9z M573.8,154.5h.9v.9h-.9z M574.0,154.8h.9v.9h-.9z M578.3,151.9h.9v.9h-.9z M575.6,159.0h.9v.9h-.9z M573.7,156.0h.9v.9h-.9z M580.3,160.1h.9v.9h-.9z M576.5,161.2h.9v.9h-.9z M576.9,162.0h.9v.9h-.9z M573.2,154.8h.9v.9h-.9z M574.4,154.5h.9v.9h-.9z M574.8,158.6h.9v.9h-.9z M575.4,159.3h.9v.9h-.9z M575.9,158.1h.9v.9h-.9z M577.1,158.0h.9v.9h-.9z M573.5,155.2h.9v.9h-.9z M575.8,159.7h.9v.9h-.9z M579.0,159.0h.9v.9h-.9z M577.6,160.8h.9v.9h-.9z M579.6,164.7h.9v.9h-.9z M578.5,164.4h.9v.9h-.9z M578.6,164.2h.9v.9h-.9z M580.0,164.9h.9v.9h-.9z M579.4,165.3h.9v.9h-.9z M579.2,163.3h.9v.9h-.9z M580.9,158.3h.9v.9h-.9z M577.6,161.9h.9v.9h-.9z M578.3,160.8h.9v.9h-.9z M582.3,168.2h.9v.9h-.9z M583.1,169.4h.9v.9h-.9z M581.7,167.8h.9v.9h-.9z M580.9,168.3h.9v.9h-.9z M581.7,166.0h.9v.9h-.9z M585.7,168.5h.9v.9h-.9z M582.5,170.2h.9v.9h-.9z M581.8,169.6h.9v.9h-.9z M587.3,166.2h.9v.9h-.9z M584.0,169.1h.9v.9h-.9z M583.3,175.8h.9v.9h-.9z M583.1,172.6h.9v.9h-.9z M582.1,174.0h.9v.9h-.9z M587.4,174.1h.9v.9h-.9z M586.0,174.8h.9v.9h-.9z M583.8,172.0h.9v.9h-.9z M584.3,175.4h.9v.9h-.9z M587.1,171.9h.9v.9h-.9z M582.8,174.7h.9v.9h-.9z M582.9,173.6h.9v.9h-.9z M583.3,176.7h.9v.9h-.9z M583.8,177.7h.9v.9h-.9z M586.6,180.8h.9v.9h-.9z M585.4,176.6h.9v.9h-.9z M585.3,179.3h.9v.9h-.9z M584.6,177.1h.9v.9h-.9z M584.0,175.7h.9v.9h-.9z M585.3,179.5h.9v.9h-.9z M585.8,176.6h.9v.9h-.9z M585.7,181.1h.9v.9h-.9z M585.9,177.8h.9v.9h-.9z M587.2,181.1h.9v.9h-.9z M588.8,186.3h.9v.9h-.9z M589.0,185.0h.9v.9h-.9z M589.2,184.7h.9v.9h-.9z M588.6,182.2h.9v.9h-.9z M588.3,185.7h.9v.9h-.9z M589.2,184.1h.9v.9h-.9z M587.3,184.5h.9v.9h-.9z M587.0,183.8h.9v.9h-.9z M588.9,183.5h.9v.9h-.9z M586.6,184.7h.9v.9h-.9z M587.8,185.8h.9v.9h-.9z M589.4,183.7h.9v.9h-.9z M590.2,192.6h.9v.9h-.9z M587.9,193.1h.9v.9h-.9z M593.1,194.7h.9v.9h-.9z M586.9,193.6h.9v.9h-.9z M591.8,192.8h.9v.9h-.9z M588.2,189.9h.9v.9h-.9z M590.2,193.7h.9v.9h-.9z M588.7,192.1h.9v.9h-.9z M589.0,193.1h.9v.9h-.9z M588.3,195.7h.9v.9h-.9z M587.8,195.6h.9v.9h-.9z M586.3,194.6h.9v.9h-.9z M584.6,199.1h.9v.9h-.9z M585.5,199.9h.9v.9h-.9z M586.5,195.5h.9v.9h-.9z M584.0,200.6h.9v.9h-.9z M585.9,200.0h.9v.9h-.9z M585.1,199.4h.9v.9h-.9z M584.9,202.7h.9v.9h-.9z M587.2,196.6h.9v.9h-.9z M586.6,196.8h.9v.9h-.9z M583.7,201.4h.9v.9h-.9z M586.8,197.8h.9v.9h-.9z M585.5,197.2h.9v.9h-.9z M585.7,197.6h.9v.9h-.9z M585.6,202.1h.9v.9h-.9z M584.4,200.2h.9v.9h-.9z M587.0,205.8h.9v.9h-.9z M587.8,208.8h.9v.9h-.9z M584.1,204.4h.9v.9h-.9z M586.4,206.0h.9v.9h-.9z M583.3,204.3h.9v.9h-.9z M582.4,209.7h.9v.9h-.9z M583.3,206.5h.9v.9h-.9z M586.1,204.1h.9v.9h-.9z M583.6,203.8h.9v.9h-.9z M582.8,207.9h.9v.9h-.9z M584.2,203.1h.9v.9h-.9z M586.0,206.4h.9v.9h-.9z M584.9,206.2h.9v.9h-.9z M588.2,205.2h.9v.9h-.9z M583.1,205.9h.9v.9h-.9z M581.4,214.7h.9v.9h-.9z M584.6,212.4h.9v.9h-.9z M581.7,214.2h.9v.9h-.9z M582.0,215.2h.9v.9h-.9z M582.2,210.7h.9v.9h-.9z M581.0,215.0h.9v.9h-.9z M581.2,213.8h.9v.9h-.9z M581.8,211.7h.9v.9h-.9z M585.3,214.2h.9v.9h-.9z M580.5,216.2h.9v.9h-.9z M582.4,215.5h.9v.9h-.9z M582.6,215.7h.9v.9h-.9z M582.6,212.8h.9v.9h-.9z M582.7,217.0h.9v.9h-.9z M581.7,210.3h.9v.9h-.9z M580.2,218.3h.9v.9h-.9z M579.2,219.6h.9v.9h-.9z M579.8,219.7h.9v.9h-.9z M578.8,223.7h.9v.9h-.9z M578.5,222.0h.9v.9h-.9z M579.3,223.8h.9v.9h-.9z M580.5,218.9h.9v.9h-.9z M578.8,224.2h.9v.9h-.9z M583.3,221.2h.9v.9h-.9z M580.2,223.5h.9v.9h-.9z M579.6,223.3h.9v.9h-.9z M580.7,219.1h.9v.9h-.9z M579.2,224.0h.9v.9h-.9z M579.7,222.1h.9v.9h-.9z M579.3,220.4h.9v.9h-.9z M580.8,218.8h.9v.9h-.9z M580.2,228.7h.9v.9h-.9z M582.1,227.1h.9v.9h-.9z M581.6,227.5h.9v.9h-.9z M580.6,226.1h.9v.9h-.9z M581.6,230.4h.9v.9h-.9z M578.8,227.5h.9v.9h-.9z M580.7,226.0h.9v.9h-.9z M579.7,227.1h.9v.9h-.9z M579.0,225.7h.9v.9h-.9z M581.2,225.5h.9v.9h-.9z M579.7,225.5h.9v.9h-.9z M579.2,229.2h.9v.9h-.9z M583.6,229.2h.9v.9h-.9z M578.6,227.0h.9v.9h-.9z M579.5,234.2h.9v.9h-.9z M579.8,237.4h.9v.9h-.9z M579.6,236.4h.9v.9h-.9z M579.9,233.9h.9v.9h-.9z M579.3,236.7h.9v.9h-.9z M582.2,235.8h.9v.9h-.9z M580.4,236.9h.9v.9h-.9z M580.2,234.0h.9v.9h-.9z M580.4,232.9h.9v.9h-.9z M579.7,232.8h.9v.9h-.9z M581.9,244.2h.9v.9h-.9z M580.8,239.9h.9v.9h-.9z M580.0,240.5h.9v.9h-.9z M578.5,244.3h.9v.9h-.9z M579.2,241.6h.9v.9h-.9z M580.3,240.5h.9v.9h-.9z M584.9,245.0h.9v.9h-.9z M578.7,243.8h.9v.9h-.9z M580.7,240.0h.9v.9h-.9z M579.1,242.8h.9v.9h-.9z M579.7,237.8h.9v.9h-.9z M580.9,238.5h.9v.9h-.9z M580.2,240.8h.9v.9h-.9z M579.8,238.5h.9v.9h-.9z M577.1,251.7h.9v.9h-.9z M579.0,247.0h.9v.9h-.9z M577.6,249.5h.9v.9h-.9z M578.7,245.8h.9v.9h-.9z M578.4,252.0h.9v.9h-.9z M585.1,247.0h.9v.9h-.9z M577.6,251.9h.9v.9h-.9z M579.6,250.0h.9v.9h-.9z M578.5,245.2h.9v.9h-.9z M577.6,249.8h.9v.9h-.9z M581.4,249.3h.9v.9h-.9z M581.9,249.9h.9v.9h-.9z M578.0,251.0h.9v.9h-.9z M577.1,251.5h.9v.9h-.9z M575.5,256.9h.9v.9h-.9z M578.1,257.2h.9v.9h-.9z M575.7,257.0h.9v.9h-.9z M576.3,257.9h.9v.9h-.9z M578.9,254.2h.9v.9h-.9z M578.0,254.7h.9v.9h-.9z M576.5,258.7h.9v.9h-.9z M574.9,258.3h.9v.9h-.9z M579.4,256.4h.9v.9h-.9z M579.3,254.5h.9v.9h-.9z M576.4,255.6h.9v.9h-.9z M576.3,258.4h.9v.9h-.9z M580.1,254.7h.9v.9h-.9z M575.1,261.9h.9v.9h-.9z M574.1,261.4h.9v.9h-.9z M576.2,259.0h.9v.9h-.9z M576.1,260.4h.9v.9h-.9z M574.2,262.8h.9v.9h-.9z M578.8,268.3h.9v.9h-.9z M576.5,265.9h.9v.9h-.9z M573.8,264.1h.9v.9h-.9z M577.3,266.8h.9v.9h-.9z M575.1,265.5h.9v.9h-.9z M575.2,261.6h.9v.9h-.9z M575.1,261.6h.9v.9h-.9z M574.2,261.7h.9v.9h-.9z M574.8,259.9h.9v.9h-.9z M575.0,262.4h.9v.9h-.9z M572.4,268.6h.9v.9h-.9z M571.0,272.6h.9v.9h-.9z M572.5,267.5h.9v.9h-.9z M573.8,269.9h.9v.9h-.9z M573.6,267.1h.9v.9h-.9z M571.5,267.9h.9v.9h-.9z M570.9,270.8h.9v.9h-.9z M574.1,271.2h.9v.9h-.9z M575.8,272.8h.9v.9h-.9z M573.5,272.5h.9v.9h-.9z M573.4,268.2h.9v.9h-.9z M570.3,272.6h.9v.9h-.9z M570.2,275.8h.9v.9h-.9z M568.7,275.2h.9v.9h-.9z M569.5,276.5h.9v.9h-.9z M573.8,275.2h.9v.9h-.9z M571.3,273.7h.9v.9h-.9z M569.5,273.7h.9v.9h-.9z M572.1,274.6h.9v.9h-.9z M569.3,277.1h.9v.9h-.9z M570.7,276.0h.9v.9h-.9z M569.6,278.9h.9v.9h-.9z M567.5,279.3h.9v.9h-.9z M566.7,278.7h.9v.9h-.9z M569.9,278.4h.9v.9h-.9z M563.6,283.5h.9v.9h-.9z M567.5,279.7h.9v.9h-.9z M563.5,285.0h.9v.9h-.9z M567.4,285.5h.9v.9h-.9z M564.6,284.1h.9v.9h-.9z M565.1,283.3h.9v.9h-.9z M568.6,283.3h.9v.9h-.9z M567.9,280.6h.9v.9h-.9z M567.6,280.4h.9v.9h-.9z M564.4,285.6h.9v.9h-.9z M566.3,280.9h.9v.9h-.9z M565.2,285.0h.9v.9h-.9z M566.8,281.4h.9v.9h-.9z M564.1,285.0h.9v.9h-.9z M562.9,287.5h.9v.9h-.9z M561.6,290.0h.9v.9h-.9z M560.2,290.3h.9v.9h-.9z M562.5,291.8h.9v.9h-.9z M559.3,290.9h.9v.9h-.9z M559.6,290.5h.9v.9h-.9z M560.0,289.6h.9v.9h-.9z M563.5,286.3h.9v.9h-.9z M564.7,293.7h.9v.9h-.9z M561.2,290.8h.9v.9h-.9z M562.5,286.7h.9v.9h-.9z M560.0,290.9h.9v.9h-.9z M561.2,287.9h.9v.9h-.9z M560.4,292.7h.9v.9h-.9z M559.2,293.1h.9v.9h-.9z M563.3,295.6h.9v.9h-.9z M558.3,292.0h.9v.9h-.9z M559.9,291.9h.9v.9h-.9z M558.0,292.7h.9v.9h-.9z M558.4,294.7h.9v.9h-.9z M557.7,296.2h.9v.9h-.9z M562.5,296.5h.9v.9h-.9z M558.3,292.6h.9v.9h-.9z M560.3,296.5h.9v.9h-.9z M554.5,296.9h.9v.9h-.9z M554.3,301.1h.9v.9h-.9z M555.2,297.8h.9v.9h-.9z M552.1,298.2h.9v.9h-.9z M554.8,298.0h.9v.9h-.9z M554.3,299.3h.9v.9h-.9z M554.8,297.9h.9v.9h-.9z M555.2,297.7h.9v.9h-.9z M551.7,302.4h.9v.9h-.9z M550.0,299.2h.9v.9h-.9z M549.0,300.0h.9v.9h-.9z M548.9,299.4h.9v.9h-.9z M550.8,300.4h.9v.9h-.9z M548.8,299.0h.9v.9h-.9z M547.6,298.7h.9v.9h-.9z M546.6,301.4h.9v.9h-.9z M548.3,299.8h.9v.9h-.9z M546.6,299.9h.9v.9h-.9z M547.4,300.7h.9v.9h-.9z M547.1,299.4h.9v.9h-.9z M548.3,298.8h.9v.9h-.9z M547.2,300.7h.9v.9h-.9z M546.7,301.9h.9v.9h-.9z M542.7,298.1h.9v.9h-.9z M542.8,296.8h.9v.9h-.9z M541.5,296.2h.9v.9h-.9z M541.2,295.9h.9v.9h-.9z M541.7,295.4h.9v.9h-.9z M541.2,297.6h.9v.9h-.9z M541.4,296.0h.9v.9h-.9z M539.3,296.5h.9v.9h-.9z M537.7,294.3h.9v.9h-.9z M538.8,291.7h.9v.9h-.9z M538.3,292.3h.9v.9h-.9z M539.7,295.7h.9v.9h-.9z M539.5,291.5h.9v.9h-.9z M539.3,291.8h.9v.9h-.9z M540.4,292.7h.9v.9h-.9z M540.6,292.8h.9v.9h-.9z M535.0,289.4h.9v.9h-.9z M537.3,291.1h.9v.9h-.9z M538.3,290.2h.9v.9h-.9z M536.2,289.1h.9v.9h-.9z M539.2,291.4h.9v.9h-.9z M536.7,288.2h.9v.9h-.9z M537.5,289.8h.9v.9h-.9z M537.6,289.4h.9v.9h-.9z M534.6,287.2h.9v.9h-.9z M534.7,288.5h.9v.9h-.9z M533.7,287.5h.9v.9h-.9z M534.6,287.9h.9v.9h-.9z M533.3,286.8h.9v.9h-.9z M535.4,291.1h.9v.9h-.9z M534.9,292.0h.9v.9h-.9z M534.5,288.8h.9v.9h-.9z M534.9,290.9h.9v.9h-.9z M532.5,286.4h.9v.9h-.9z M530.0,286.5h.9v.9h-.9z M530.3,284.6h.9v.9h-.9z M530.0,287.9h.9v.9h-.9z M530.7,284.7h.9v.9h-.9z M530.1,283.7h.9v.9h-.9z M525.5,287.9h.9v.9h-.9z M528.4,281.6h.9v.9h-.9z M527.3,283.7h.9v.9h-.9z M527.3,285.3h.9v.9h-.9z M524.3,283.6h.9v.9h-.9z M527.5,284.3h.9v.9h-.9z M529.3,283.9h.9v.9h-.9z M527.6,281.4h.9v.9h-.9z M525.5,280.2h.9v.9h-.9z M524.5,286.3h.9v.9h-.9z M525.8,280.3h.9v.9h-.9z M526.5,283.1h.9v.9h-.9z M527.2,280.4h.9v.9h-.9z M525.7,282.9h.9v.9h-.9z M524.4,280.7h.9v.9h-.9z M524.4,281.7h.9v.9h-.9z M525.5,280.3h.9v.9h-.9z M525.9,283.8h.9v.9h-.9z M527.2,282.6h.9v.9h-.9z M523.7,282.7h.9v.9h-.9z M522.8,283.5h.9v.9h-.9z M522.9,282.7h.9v.9h-.9z M525.2,285.5h.9v.9h-.9z M524.7,284.7h.9v.9h-.9z M524.6,283.5h.9v.9h-.9z M521.8,286.6h.9v.9h-.9z M522.5,285.4h.9v.9h-.9z M521.8,287.8h.9v.9h-.9z M526.4,289.7h.9v.9h-.9z M522.8,288.3h.9v.9h-.9z M524.2,288.3h.9v.9h-.9z M521.3,286.0h.9v.9h-.9z M519.0,289.6h.9v.9h-.9z M519.8,289.0h.9v.9h-.9z M520.8,291.9h.9v.9h-.9z M522.6,292.0h.9v.9h-.9z M521.4,289.3h.9v.9h-.9z M521.5,288.7h.9v.9h-.9z M516.9,295.2h.9v.9h-.9z M517.4,297.4h.9v.9h-.9z M516.1,295.1h.9v.9h-.9z M517.3,296.6h.9v.9h-.9z M519.2,296.8h.9v.9h-.9z M515.8,293.8h.9v.9h-.9z M518.0,292.3h.9v.9h-.9z M516.2,295.4h.9v.9h-.9z M517.1,296.0h.9v.9h-.9z M515.3,294.6h.9v.9h-.9z M515.5,294.6h.9v.9h-.9z M515.1,294.4h.9v.9h-.9z M513.3,298.7h.9v.9h-.9z M513.9,296.4h.9v.9h-.9z M513.1,297.4h.9v.9h-.9z M513.7,298.4h.9v.9h-.9z M515.5,296.0h.9v.9h-.9z M514.8,295.3h.9v.9h-.9z M517.3,297.3h.9v.9h-.9z M514.9,296.7h.9v.9h-.9z M512.6,299.1h.9v.9h-.9z M512.9,297.2h.9v.9h-.9z M511.6,304.5h.9v.9h-.9z M514.8,303.3h.9v.9h-.9z M515.0,305.8h.9v.9h-.9z M512.7,303.5h.9v.9h-.9z M512.9,304.0h.9v.9h-.9z M515.3,304.3h.9v.9h-.9z M511.4,306.1h.9v.9h-.9z M512.6,303.4h.9v.9h-.9z M513.2,304.4h.9v.9h-.9z M517.3,300.5h.9v.9h-.9z M512.5,303.3h.9v.9h-.9z M512.8,304.8h.9v.9h-.9z M513.0,301.7h.9v.9h-.9z M507.0,312.0h.9v.9h-.9z M507.5,311.0h.9v.9h-.9z M509.3,311.3h.9v.9h-.9z M511.0,307.8h.9v.9h-.9z M506.3,309.7h.9v.9h-.9z M509.9,308.8h.9v.9h-.9z M510.4,307.5h.9v.9h-.9z M509.1,308.5h.9v.9h-.9z M509.3,308.7h.9v.9h-.9z M512.0,310.9h.9v.9h-.9z M508.3,311.1h.9v.9h-.9z M506.9,310.9h.9v.9h-.9z M506.4,310.6h.9v.9h-.9z M508.0,309.1h.9v.9h-.9z M506.4,310.1h.9v.9h-.9z M507.5,315.2h.9v.9h-.9z M508.5,312.5h.9v.9h-.9z M506.9,315.0h.9v.9h-.9z M509.0,315.4h.9v.9h-.9z M510.4,310.6h.9v.9h-.9z M508.3,311.2h.9v.9h-.9z M508.2,314.9h.9v.9h-.9z M507.2,315.0h.9v.9h-.9z M507.3,312.4h.9v.9h-.9z M507.2,313.1h.9v.9h-.9z M509.7,313.8h.9v.9h-.9z M508.7,313.5h.9v.9h-.9z M512.3,316.1h.9v.9h-.9z M509.1,314.7h.9v.9h-.9z M508.5,316.9h.9v.9h-.9z M508.4,316.1h.9v.9h-.9z M514.0,312.8h.9v.9h-.9z M510.6,317.8h.9v.9h-.9z M507.9,314.3h.9v.9h-.9z M508.1,315.5h.9v.9h-.9z M508.8,313.3h.9v.9h-.9z M510.2,317.3h.9v.9h-.9z M509.5,314.6h.9v.9h-.9z M514.7,319.5h.9v.9h-.9z M514.2,319.1h.9v.9h-.9z M515.9,318.9h.9v.9h-.9z M515.2,320.0h.9v.9h-.9z M517.5,315.5h.9v.9h-.9z M511.9,318.0h.9v.9h-.9z M515.9,318.1h.9v.9h-.9z M512.6,318.2h.9v.9h-.9z M515.9,318.9h.9v.9h-.9z M515.3,319.9h.9v.9h-.9z M517.5,314.7h.9v.9h-.9z M517.5,318.2h.9v.9h-.9z M513.8,319.2h.9v.9h-.9z M515.9,320.2h.9v.9h-.9z M516.8,318.5h.9v.9h-.9z M513.9,318.2h.9v.9h-.9z M519.1,318.9h.9v.9h-.9z M524.1,317.1h.9v.9h-.9z M521.2,320.3h.9v.9h-.9z M520.2,319.1h.9v.9h-.9z M523.1,319.1h.9v.9h-.9z M520.9,318.0h.9v.9h-.9z M521.2,320.1h.9v.9h-.9z M520.5,319.6h.9v.9h-.9z M524.0,322.0h.9v.9h-.9z M523.0,320.8h.9v.9h-.9z M524.6,320.5h.9v.9h-.9z M525.2,322.6h.9v.9h-.9z M522.8,320.9h.9v.9h-.9z M525.4,320.5h.9v.9h-.9z M524.5,322.5h.9v.9h-.9z M525.4,321.0h.9v.9h-.9z M526.4,326.1h.9v.9h-.9z M526.4,323.7h.9v.9h-.9z M528.6,325.4h.9v.9h-.9z M525.7,327.8h.9v.9h-.9z M525.7,327.5h.9v.9h-.9z M526.6,328.6h.9v.9h-.9z M529.9,326.1h.9v.9h-.9z M527.6,323.9h.9v.9h-.9z M526.5,326.9h.9v.9h-.9z M526.2,326.5h.9v.9h-.9z M529.2,330.0h.9v.9h-.9z M527.1,331.7h.9v.9h-.9z M526.1,329.1h.9v.9h-.9z M525.8,330.2h.9v.9h-.9z M527.8,332.9h.9v.9h-.9z M525.6,331.5h.9v.9h-.9z M526.1,333.2h.9v.9h-.9z M528.6,332.6h.9v.9h-.9z M526.4,330.4h.9v.9h-.9z M529.1,335.6h.9v.9h-.9z M526.9,332.4h.9v.9h-.9z M526.8,334.5h.9v.9h-.9z M529.3,336.1h.9v.9h-.9z M528.4,335.6h.9v.9h-.9z M528.1,335.9h.9v.9h-.9z M528.2,336.3h.9v.9h-.9z M526.1,333.5h.9v.9h-.9z M531.9,331.8h.9v.9h-.9z M529.8,334.9h.9v.9h-.9z M527.2,338.8h.9v.9h-.9z M528.9,342.8h.9v.9h-.9z M529.0,342.0h.9v.9h-.9z M529.3,340.0h.9v.9h-.9z M528.0,339.2h.9v.9h-.9z M527.7,340.6h.9v.9h-.9z M516.9,342.7h.9v.9h-.9z M523.4,340.8h.9v.9h-.9z M523.1,342.5h.9v.9h-.9z M521.2,342.9h.9v.9h-.9z M517.8,341.1h.9v.9h-.9z M518.4,341.7h.9v.9h-.9z M519.2,342.5h.9v.9h-.9z M518.2,341.2h.9v.9h-.9z M524.7,341.0h.9v.9h-.9z M520.9,346.5h.9v.9h-.9z M517.5,341.1h.9v.9h-.9z M521.3,342.9h.9v.9h-.9z M524.3,345.4h.9v.9h-.9z M524.7,343.8h.9v.9h-.9z M517.4,342.5h.9v.9h-.9z M523.2,344.7h.9v.9h-.9z M519.4,342.4h.9v.9h-.9z M524.5,347.6h.9v.9h-.9z M516.1,341.4h.9v.9h-.9z M521.3,338.9h.9v.9h-.9z M518.5,339.7h.9v.9h-.9z M516.7,342.2h.9v.9h-.9z M517.4,340.8h.9v.9h-.9z M516.6,340.8h.9v.9h-.9z M518.2,341.7h.9v.9h-.9z M519.4,346.3h.9v.9h-.9z M518.6,343.0h.9v.9h-.9z M518.3,343.1h.9v.9h-.9z M518.2,344.9h.9v.9h-.9z M522.4,342.3h.9v.9h-.9z M519.9,343.3h.9v.9h-.9z M522.2,345.6h.9v.9h-.9z M518.8,345.5h.9v.9h-.9z M517.8,344.5h.9v.9h-.9z M521.5,350.4h.9v.9h-.9z M521.8,347.1h.9v.9h-.9z M522.7,350.9h.9v.9h-.9z M522.0,349.7h.9v.9h-.9z M522.4,350.1h.9v.9h-.9z M522.5,349.5h.9v.9h-.9z M524.2,350.5h.9v.9h-.9z M521.8,351.3h.9v.9h-.9z M521.7,350.9h.9v.9h-.9z M522.7,352.1h.9v.9h-.9z M524.4,353.8h.9v.9h-.9z M523.9,354.4h.9v.9h-.9z M524.9,354.1h.9v.9h-.9z M524.7,351.3h.9v.9h-.9z M523.5,352.8h.9v.9h-.9z M523.1,357.8h.9v.9h-.9z M524.5,358.3h.9v.9h-.9z M523.3,357.1h.9v.9h-.9z M523.0,356.5h.9v.9h-.9z M523.2,356.1h.9v.9h-.9z M520.2,357.9h.9v.9h-.9z M522.0,358.2h.9v.9h-.9z M523.6,359.8h.9v.9h-.9z M520.3,359.2h.9v.9h-.9z M520.5,358.1h.9v.9h-.9z M522.6,362.1h.9v.9h-.9z M523.3,360.9h.9v.9h-.9z M522.3,358.6h.9v.9h-.9z M526.7,360.0h.9v.9h-.9z M522.9,362.0h.9v.9h-.9z M520.9,359.0h.9v.9h-.9z M521.7,361.3h.9v.9h-.9z M523.0,359.1h.9v.9h-.9z M522.9,359.6h.9v.9h-.9z M525.7,366.3h.9v.9h-.9z M523.7,367.4h.9v.9h-.9z M523.9,366.6h.9v.9h-.9z M525.0,364.8h.9v.9h-.9z M522.4,363.4h.9v.9h-.9z M523.1,364.4h.9v.9h-.9z M524.7,366.8h.9v.9h-.9z M522.9,364.3h.9v.9h-.9z M523.2,366.2h.9v.9h-.9z M528.6,372.8h.9v.9h-.9z M528.1,374.2h.9v.9h-.9z M527.2,368.0h.9v.9h-.9z M528.2,372.7h.9v.9h-.9z M527.4,369.8h.9v.9h-.9z M523.9,366.7h.9v.9h-.9z M525.0,369.1h.9v.9h-.9z M524.0,367.7h.9v.9h-.9z M524.7,367.9h.9v.9h-.9z M526.0,369.5h.9v.9h-.9z M523.7,367.8h.9v.9h-.9z M527.1,372.4h.9v.9h-.9z M525.6,369.6h.9v.9h-.9z M525.6,371.6h.9v.9h-.9z M526.7,369.3h.9v.9h-.9z M527.1,372.9h.9v.9h-.9z M529.1,371.0h.9v.9h-.9z M528.2,379.2h.9v.9h-.9z M527.5,378.5h.9v.9h-.9z M528.4,377.0h.9v.9h-.9z M529.7,375.5h.9v.9h-.9z M529.2,379.7h.9v.9h-.9z M528.3,376.3h.9v.9h-.9z M528.2,376.4h.9v.9h-.9z M532.6,380.3h.9v.9h-.9z M529.2,377.5h.9v.9h-.9z M527.8,375.4h.9v.9h-.9z M530.3,381.2h.9v.9h-.9z M528.8,375.9h.9v.9h-.9z M530.6,383.5h.9v.9h-.9z M529.0,383.6h.9v.9h-.9z M528.1,382.6h.9v.9h-.9z M530.2,386.8h.9v.9h-.9z M531.3,387.3h.9v.9h-.9z M529.2,385.9h.9v.9h-.9z M530.3,387.8h.9v.9h-.9z M528.1,383.4h.9v.9h-.9z M528.4,383.9h.9v.9h-.9z M530.2,388.4h.9v.9h-.9z M527.0,381.7h.9v.9h-.9z M531.1,383.4h.9v.9h-.9z M530.3,386.0h.9v.9h-.9z M532.7,379.9h.9v.9h-.9z M533.2,384.9h.9v.9h-.9z M531.5,387.5h.9v.9h-.9z M531.9,393.5h.9v.9h-.9z M533.3,388.2h.9v.9h-.9z M532.4,389.6h.9v.9h-.9z M532.5,393.9h.9v.9h-.9z M531.4,390.9h.9v.9h-.9z M533.1,393.8h.9v.9h-.9z M535.7,391.1h.9v.9h-.9z M534.7,393.0h.9v.9h-.9z M531.8,390.4h.9v.9h-.9z M534.7,388.9h.9v.9h-.9z M534.3,393.8h.9v.9h-.9z M538.9,391.8h.9v.9h-.9z M532.6,393.4h.9v.9h-.9z M533.5,396.2h.9v.9h-.9z M535.5,397.5h.9v.9h-.9z M537.1,396.7h.9v.9h-.9z M532.2,398.1h.9v.9h-.9z M532.9,397.5h.9v.9h-.9z M532.0,398.9h.9v.9h-.9z M532.6,395.9h.9v.9h-.9z M532.0,396.3h.9v.9h-.9z M533.2,396.4h.9v.9h-.9z M534.1,400.1h.9v.9h-.9z M535.3,403.0h.9v.9h-.9z M533.0,402.2h.9v.9h-.9z M533.6,401.6h.9v.9h-.9z M533.1,402.2h.9v.9h-.9z M535.0,403.4h.9v.9h-.9z M533.0,399.1h.9v.9h-.9z M532.6,401.5h.9v.9h-.9z M533.6,403.0h.9v.9h-.9z M533.9,403.3h.9v.9h-.9z M537.0,404.3h.9v.9h-.9z M535.4,404.8h.9v.9h-.9z M536.6,405.7h.9v.9h-.9z M542.8,404.7h.9v.9h-.9z M537.5,402.6h.9v.9h-.9z M537.7,407.6h.9v.9h-.9z M534.9,403.7h.9v.9h-.9z M538.4,408.0h.9v.9h-.9z M535.6,403.6h.9v.9h-.9z M536.0,406.6h.9v.9h-.9z M536.0,405.5h.9v.9h-.9z M536.7,404.1h.9v.9h-.9z M538.4,412.0h.9v.9h-.9z M539.3,410.0h.9v.9h-.9z M540.1,412.5h.9v.9h-.9z M538.9,413.7h.9v.9h-.9z M537.8,409.7h.9v.9h-.9z M538.7,410.0h.9v.9h-.9z M540.0,410.0h.9v.9h-.9z M538.5,409.6h.9v.9h-.9z M537.7,409.6h.9v.9h-.9z M538.7,410.4h.9v.9h-.9z M538.0,421.4h.9v.9h-.9z M539.3,415.9h.9v.9h-.9z M540.8,415.4h.9v.9h-.9z M538.6,417.3h.9v.9h-.9z M538.3,417.2h.9v.9h-.9z M541.8,415.3h.9v.9h-.9z M541.3,419.9h.9v.9h-.9z M539.4,417.0h.9v.9h-.9z M536.7,421.3h.9v.9h-.9z M538.5,420.1h.9v.9h-.9z M537.8,421.0h.9v.9h-.9z M542.3,415.9h.9v.9h-.9z M539.0,416.8h.9v.9h-.9z M537.4,421.1h.9v.9h-.9z M537.5,424.0h.9v.9h-.9z M537.6,425.8h.9v.9h-.9z M541.0,422.5h.9v.9h-.9z M539.4,422.9h.9v.9h-.9z M536.5,421.4h.9v.9h-.9z M536.7,421.7h.9v.9h-.9z M539.6,425.7h.9v.9h-.9z M541.0,424.2h.9v.9h-.9z M537.4,424.0h.9v.9h-.9z M537.3,423.6h.9v.9h-.9z M543.0,423.5h.9v.9h-.9z M536.8,421.9h.9v.9h-.9z M537.7,428.4h.9v.9h-.9z M537.9,431.8h.9v.9h-.9z M537.4,429.6h.9v.9h-.9z M538.5,431.9h.9v.9h-.9z M538.2,427.9h.9v.9h-.9z M538.6,430.0h.9v.9h-.9z M538.3,431.4h.9v.9h-.9z M537.6,430.5h.9v.9h-.9z M540.5,435.1h.9v.9h-.9z M539.2,432.6h.9v.9h-.9z M539.8,435.0h.9v.9h-.9z M539.6,432.7h.9v.9h-.9z M543.0,431.0h.9v.9h-.9z M539.1,434.0h.9v.9h-.9z M542.0,434.8h.9v.9h-.9z M541.3,435.6h.9v.9h-.9z M538.6,432.2h.9v.9h-.9z M539.0,433.3h.9v.9h-.9z M541.4,435.1h.9v.9h-.9z M542.0,432.1h.9v.9h-.9z M542.1,435.9h.9v.9h-.9z M543.3,436.1h.9v.9h-.9z M542.6,436.8h.9v.9h-.9z M542.6,438.4h.9v.9h-.9z M541.5,438.0h.9v.9h-.9z M542.7,441.5h.9v.9h-.9z M542.5,439.9h.9v.9h-.9z M542.3,441.1h.9v.9h-.9z M541.6,437.0h.9v.9h-.9z M542.7,438.6h.9v.9h-.9z M541.3,437.9h.9v.9h-.9z M545.2,442.4h.9v.9h-.9z M542.7,446.1h.9v.9h-.9z M545.9,444.8h.9v.9h-.9z M541.2,448.9h.9v.9h-.9z M542.2,444.7h.9v.9h-.9z M542.1,448.5h.9v.9h-.9z M543.1,450.1h.9v.9h-.9z M542.9,447.4h.9v.9h-.9z M546.1,443.1h.9v.9h-.9z M541.7,448.6h.9v.9h-.9z M545.2,450.7h.9v.9h-.9z M542.0,446.4h.9v.9h-.9z M542.4,445.9h.9v.9h-.9z M543.9,446.5h.9v.9h-.9z M542.3,450.0h.9v.9h-.9z M543.5,443.0h.9v.9h-.9z M541.7,446.4h.9v.9h-.9z M542.3,452.5h.9v.9h-.9z M541.3,453.1h.9v.9h-.9z M543.7,453.5h.9v.9h-.9z M541.3,452.5h.9v.9h-.9z M539.6,453.7h.9v.9h-.9z M541.6,452.0h.9v.9h-.9z M543.3,458.5h.9v.9h-.9z M538.3,456.8h.9v.9h-.9z M538.9,457.9h.9v.9h-.9z M542.9,457.2h.9v.9h-.9z M539.9,454.1h.9v.9h-.9z M543.8,456.1h.9v.9h-.9z M540.0,456.2h.9v.9h-.9z M539.1,457.2h.9v.9h-.9z M541.7,454.7h.9v.9h-.9z M543.6,454.3h.9v.9h-.9z M541.6,457.2h.9v.9h-.9z M541.4,457.7h.9v.9h-.9z M538.4,457.6h.9v.9h-.9z M542.3,458.8h.9v.9h-.9z M541.2,457.4h.9v.9h-.9z M538.3,457.0h.9v.9h-.9z M539.9,454.9h.9v.9h-.9z M540.6,457.9h.9v.9h-.9z M540.0,456.1h.9v.9h-.9z M542.1,454.1h.9v.9h-.9z M544.0,459.6h.9v.9h-.9z M545.6,461.4h.9v.9h-.9z M544.5,460.3h.9v.9h-.9z M548.4,461.9h.9v.9h-.9z M544.1,459.7h.9v.9h-.9z M545.0,459.2h.9v.9h-.9z M545.1,461.1h.9v.9h-.9z M545.8,461.5h.9v.9h-.9z M546.4,461.9h.9v.9h-.9z M544.7,459.6h.9v.9h-.9z M551.2,457.8h.9v.9h-.9z M549.0,464.2h.9v.9h-.9z M548.1,464.9h.9v.9h-.9z M551.4,467.8h.9v.9h-.9z M549.4,463.7h.9v.9h-.9z M552.0,461.9h.9v.9h-.9z M548.4,463.9h.9v.9h-.9z M551.7,465.5h.9v.9h-.9z M552.0,464.9h.9v.9h-.9z M548.7,463.0h.9v.9h-.9z M551.0,466.2h.9v.9h-.9z M551.8,467.1h.9v.9h-.9z M552.9,464.4h.9v.9h-.9z M554.7,470.4h.9v.9h-.9z M551.5,468.4h.9v.9h-.9z M556.6,471.0h.9v.9h-.9z M556.6,469.8h.9v.9h-.9z M556.3,470.0h.9v.9h-.9z M554.0,469.2h.9v.9h-.9z M554.2,469.7h.9v.9h-.9z M554.4,468.8h.9v.9h-.9z M554.4,469.6h.9v.9h-.9z M555.5,470.0h.9v.9h-.9z M554.1,469.1h.9v.9h-.9z M559.4,471.0h.9v.9h-.9z M557.6,471.0h.9v.9h-.9z M559.1,469.9h.9v.9h-.9z M559.4,470.6h.9v.9h-.9z M558.2,471.5h.9v.9h-.9z M557.6,466.2h.9v.9h-.9z M560.1,469.7h.9v.9h-.9z M557.2,468.8h.9v.9h-.9z M561.7,473.7h.9v.9h-.9z M564.9,474.7h.9v.9h-.9z M565.8,470.8h.9v.9h-.9z M564.6,471.7h.9v.9h-.9z M565.2,474.4h.9v.9h-.9z M562.2,476.1h.9v.9h-.9z M561.8,474.1h.9v.9h-.9z M560.5,472.0h.9v.9h-.9z M562.7,473.3h.9v.9h-.9z M563.1,478.3h.9v.9h-.9z M563.9,478.9h.9v.9h-.9z M564.4,477.6h.9v.9h-.9z M563.2,477.1h.9v.9h-.9z M563.9,479.8h.9v.9h-.9z M564.6,478.8h.9v.9h-.9z M566.1,482.3h.9v.9h-.9z M564.5,480.3h.9v.9h-.9z M565.5,481.4h.9v.9h-.9z M565.4,482.4h.9v.9h-.9z M566.8,479.5h.9v.9h-.9z M565.6,477.8h.9v.9h-.9z M572.6,483.0h.9v.9h-.9z M565.6,483.7h.9v.9h-.9z M567.1,484.4h.9v.9h-.9z M568.4,486.1h.9v.9h-.9z M567.4,485.6h.9v.9h-.9z M569.1,482.7h.9v.9h-.9z M567.8,485.5h.9v.9h-.9z M567.7,488.1h.9v.9h-.9z M567.0,485.9h.9v.9h-.9z M567.4,484.3h.9v.9h-.9z M566.7,485.1h.9v.9h-.9z M569.5,489.1h.9v.9h-.9z M571.5,489.8h.9v.9h-.9z M571.5,484.6h.9v.9h-.9z M569.8,488.6h.9v.9h-.9z M571.0,488.7h.9v.9h-.9z M568.5,487.3h.9v.9h-.9z M569.1,488.1h.9v.9h-.9z M569.9,490.1h.9v.9h-.9z M570.7,488.7h.9v.9h-.9z M569.0,488.1h.9v.9h-.9z M574.2,492.2h.9v.9h-.9z M574.6,493.3h.9v.9h-.9z M579.8,490.1h.9v.9h-.9z M575.7,494.3h.9v.9h-.9z M574.0,488.8h.9v.9h-.9z M575.7,492.7h.9v.9h-.9z M575.6,494.1h.9v.9h-.9z M572.0,491.2h.9v.9h-.9z M572.5,491.9h.9v.9h-.9z M578.2,492.1h.9v.9h-.9z M575.7,494.2h.9v.9h-.9z M577.0,495.4h.9v.9h-.9z M579.2,493.5h.9v.9h-.9z M578.6,493.5h.9v.9h-.9z M579.4,496.7h.9v.9h-.9z M577.6,493.6h.9v.9h-.9z M579.1,491.0h.9v.9h-.9z M577.7,496.2h.9v.9h-.9z M580.3,496.5h.9v.9h-.9z M581.9,495.3h.9v.9h-.9z M583.1,495.5h.9v.9h-.9z M579.3,494.9h.9v.9h-.9z M579.2,496.3h.9v.9h-.9z M580.2,495.2h.9v.9h-.9z M578.1,494.5h.9v.9h-.9z M581.3,494.7h.9v.9h-.9z M582.8,496.0h.9v.9h-.9z M581.7,493.8h.9v.9h-.9z M584.9,496.6h.9v.9h-.9z M585.2,496.2h.9v.9h-.9z M584.9,496.1h.9v.9h-.9z M586.9,496.3h.9v.9h-.9z M588.5,498.1h.9v.9h-.9z M585.3,494.2h.9v.9h-.9z M586.1,494.7h.9v.9h-.9z M585.9,495.5h.9v.9h-.9z M586.5,497.6h.9v.9h-.9z M585.5,495.2h.9v.9h-.9z M589.4,495.1h.9v.9h-.9z M590.2,499.3h.9v.9h-.9z M590.9,499.2h.9v.9h-.9z M592.1,500.6h.9v.9h-.9z M590.7,499.9h.9v.9h-.9z M593.2,501.9h.9v.9h-.9z M593.4,496.3h.9v.9h-.9z M592.3,495.0h.9v.9h-.9z M592.7,498.2h.9v.9h-.9z M590.7,498.6h.9v.9h-.9z M592.7,499.9h.9v.9h-.9z M597.6,501.1h.9v.9h-.9z M600.8,499.9h.9v.9h-.9z M598.1,501.3h.9v.9h-.9z M596.2,501.1h.9v.9h-.9z M597.5,502.3h.9v.9h-.9z M595.8,502.8h.9v.9h-.9z M594.9,501.2h.9v.9h-.9z M595.8,501.7h.9v.9h-.9z M597.0,504.0h.9v.9h-.9z M596.8,503.7h.9v.9h-.9z M599.7,506.6h.9v.9h-.9z M602.2,508.2h.9v.9h-.9z M602.3,508.8h.9v.9h-.9z M600.9,504.8h.9v.9h-.9z M599.0,504.6h.9v.9h-.9z M601.1,505.0h.9v.9h-.9z M600.9,507.0h.9v.9h-.9z M599.7,504.9h.9v.9h-.9z M602.3,504.1h.9v.9h-.9z M601.1,507.7h.9v.9h-.9z" fill="#222" fill-opacity="0.85"/>
<polyline points="395.0,62.5 395.9,65.0 396.9,67.4 398.8,71.1 402.5,72.4 404.4,74.5 405.6,76.8 407.7,77.9 409.5,78.9 411.9,79.9 413.3,82.3 414.4,84.2 416.3,85.3 418.6,87.0 421.2,88.0 423.0,89.5 424.4,91.8 426.4,94.0 427.5,95.5 430.0,97.8 432.3,98.1 434.4,98.2 436.9,101.8 438.8,101.9 441.2,103.0 443.8,104.2 446.2,106.1 448.1,107.1 450.6,108.6 452.5,108.8 455.1,109.3 457.5,109.2 460.0,110.3 462.5,111.1 465.0,112.4 468.1,112.5 471.2,112.4 475.0,112.5 478.8,110.2 481.2,110.2 483.8,110.6 484.8,106.9 487.2,106.1 488.8,104.4 492.2,105.1 495.0,105.4 498.0,105.9 501.2,106.9 504.2,107.4 507.5,108.8 509.4,107.0 511.1,105.3 512.5,103.8 514.6,102.6 515.4,100.6 517.5,99.4 520.4,97.8 522.5,96.2 526.2,96.5 529.2,97.9 531.2,99.4 533.1,100.6 536.1,101.4 538.1,102.8 539.9,105.0 542.5,107.5 545.0,110.0 547.1,112.1 548.0,113.5 550.0,115.6 551.3,117.1 553.6,119.1 555.0,121.2 556.3,123.7 557.2,126.5 558.8,128.8 559.5,130.9 560.6,132.8 561.8,134.7 563.1,136.9 564.6,139.2 565.1,141.3 566.1,142.9 567.5,145.0 568.9,147.3 569.3,149.8 570.5,151.3 571.9,153.8 573.2,155.8 573.9,157.7 574.8,160.4 576.2,162.5 577.6,164.5 579.4,166.2 580.2,168.7 581.2,171.2 582.3,173.7 582.5,176.2 583.4,178.7 583.9,180.1 585.0,182.5 586.1,184.9 586.3,186.4 587.2,188.8 586.7,191.2 585.5,193.3 585.0,195.0 584.7,197.6 583.7,199.6 583.1,202.5 582.1,205.4 581.6,207.7 581.2,210.0 580.5,212.8 580.3,214.8 579.8,217.5 578.1,218.1 577.8,220.6 577.7,222.5 578.1,225.0 578.3,227.8 578.5,229.8 578.5,232.5 579.0,234.7 578.8,237.5 578.0,239.8 578.0,242.1 577.8,245.0 577.0,247.4 576.8,249.7 576.2,252.5 575.2,256.0 574.4,258.8 574.0,261.4 572.9,263.8 571.9,266.2 570.7,267.9 569.8,270.8 569.4,272.5 568.5,275.0 566.9,276.8 566.2,278.8 565.0,281.0 563.6,283.4 562.5,285.0 560.9,286.9 560.2,289.1 558.8,290.6 557.2,293.1 555.2,295.3 551.5,297.6 548.4,298.3 544.1,297.9 541.9,294.5 539.9,290.6 537.3,287.5 535.4,287.1 533.0,285.9 530.5,283.0 528.3,280.4 524.9,279.5 522.8,281.5 521.1,284.2 519.4,287.6 518.0,290.5 515.9,292.4 514.0,294.0 513.1,296.8 511.5,299.0 511.1,301.6 511.2,303.7 510.5,306.0 508.6,307.4 506.5,309.2 504.4,310.6 505.3,313.6 506.9,316.2 509.5,318.2 511.2,319.4 514.3,320.2 516.9,321.2 518.1,319.4 521.9,321.2 525.0,323.8 525.5,326.3 525.6,328.8 524.9,331.2 524.4,333.1 525.3,335.5 526.9,337.5 525.0,340.0 522.2,340.2 520.3,340.1 518.1,340.4 515.6,340.6 516.9,343.8 518.3,346.0 519.4,347.5 520.2,349.3 521.5,352.0 523.2,355.0 521.2,356.7 519.6,358.0 520.3,360.2 521.5,363.0 522.6,365.4 523.0,367.5 524.4,370.4 525.7,372.6 527.2,375.0 526.5,378.1 526.2,381.2 527.8,384.1 529.1,386.1 530.0,388.8 531.0,391.7 531.9,395.0 531.2,397.2 531.1,399.5 532.4,402.2 533.1,404.2 535.2,407.2 536.9,409.2 537.3,411.5 538.1,414.2 537.4,416.3 536.4,418.7 536.0,421.1 536.6,424.2 536.9,427.4 536.2,431.8 537.7,434.6 539.4,436.8 540.8,439.2 541.2,441.8 540.7,444.2 541.2,447.2 540.6,450.5 539.4,453.5 538.7,455.8 537.7,458.0 540.2,459.2 543.1,459.9 544.6,461.7 546.9,464.2 549.0,466.0 551.2,468.6 553.7,469.9 555.6,471.8 559.4,473.0 560.3,474.8 561.9,477.4 563.6,480.2 565.0,483.0 566.1,485.9 566.9,488.6 569.4,490.6 571.2,491.8 573.6,493.4 575.6,495.5 578.8,497.4 581.2,496.8 583.8,496.8 585.8,498.0 588.8,499.2 591.1,500.5 593.1,502.4 595.1,503.9 597.5,505.8 599.7,507.6 601.5,509.5" fill="none" stroke="#1a1a1a" stroke-width="1.15" stroke-linejoin="round"/>
</g>
<line x1="171.5" y1="515.3" x2="171.5" y2="57.5" stroke="#000" stroke-opacity="0.28" stroke-width="1" stroke-dasharray="6 6" />
<line x1="279.5" y1="515.3" x2="279.5" y2="57.5" stroke="#000" stroke-opacity="0.28" stroke-width="1" stroke-dasharray="6 6" />
<line x1="388.5" y1="515.3" x2="388.5" y2="57.5" stroke="#000" stroke-opacity="0.28" stroke-width="1" stroke-dasharray="6 6" />
<line x1="496.5" y1="515.3" x2="496.5" y2="57.5" stroke="#000" stroke-opacity="0.28" stroke-width="1" stroke-dasharray="6 6" />
<line x1="604.5" y1="515.3" x2="604.5" y2="57.5" stroke="#000" stroke-opacity="0.28" stroke-width="1" stroke-dasharray="6 6" />
<line x1="63.6" y1="84.5" x2="625.5" y2="84.5" stroke="#000" stroke-opacity="0.28" stroke-width="1" stroke-dasharray="6 6" />
<line x1="63.6" y1="174.5" x2="625.5" y2="174.5" stroke="#000" stroke-opacity="0.28" stroke-width="1" stroke-dasharray="6 6" />
<line x1="63.6" y1="264.5" x2="625.5" y2="264.5" stroke="#000" stroke-opacity="0.28" stroke-width="1" stroke-dasharray="6 6" />
<line x1="63.6" y1="354.5" x2="625.5" y2="354.5" stroke="#000" stroke-opacity="0.28" stroke-width="1" stroke-dasharray="6 6" />
<line x1="63.6" y1="443.5" x2="625.5" y2="443.5" stroke="#000" stroke-opacity="0.28" stroke-width="1" stroke-dasharray="6 6" />
<path d="M63.5,57.5H625.5V515.5H63.5Z M69.5,62.5V509.5H620.5V62.5Z" fill="#fff" fill-rule="evenodd" stroke="none"/>
<rect x="63.5" y="57.5" width="562.0" height="458.0" fill="none" stroke="#a8a8a8" stroke-width="1"/>
<rect x="69.5" y="62.5" width="551.0" height="447.0" fill="none" stroke="#a8a8a8" stroke-width="1"/>
<line x1="63.5" y1="57.5" x2="69.5" y2="62.5" stroke="#a8a8a8" stroke-width="1"/>
<line x1="625.5" y1="57.5" x2="620.5" y2="62.5" stroke="#a8a8a8" stroke-width="1"/>
<line x1="63.5" y1="515.5" x2="69.5" y2="509.5" stroke="#a8a8a8" stroke-width="1"/>
<line x1="625.5" y1="515.5" x2="620.5" y2="509.5" stroke="#a8a8a8" stroke-width="1"/>
<line x1="117.5" y1="57.5" x2="117.5" y2="62.5" stroke="#7a7a7a" stroke-width="1"/>
<line x1="117.5" y1="509.5" x2="117.5" y2="515.5" stroke="#7a7a7a" stroke-width="1"/>
<line x1="171.5" y1="57.5" x2="171.5" y2="62.5" stroke="#7a7a7a" stroke-width="1"/>
<line x1="171.5" y1="509.5" x2="171.5" y2="515.5" stroke="#7a7a7a" stroke-width="1"/>
<line x1="225.5" y1="57.5" x2="225.5" y2="62.5" stroke="#7a7a7a" stroke-width="1"/>
<line x1="225.5" y1="509.5" x2="225.5" y2="515.5" stroke="#7a7a7a" stroke-width="1"/>
<line x1="279.5" y1="57.5" x2="279.5" y2="62.5" stroke="#7a7a7a" stroke-width="1"/>
<line x1="279.5" y1="509.5" x2="279.5" y2="515.5" stroke="#7a7a7a" stroke-width="1"/>
<line x1="333.5" y1="57.5" x2="333.5" y2="62.5" stroke="#7a7a7a" stroke-width="1"/>
<line x1="333.5" y1="509.5" x2="333.5" y2="515.5" stroke="#7a7a7a" stroke-width="1"/>
<line x1="388.5" y1="57.5" x2="388.5" y2="62.5" stroke="#7a7a7a" stroke-width="1"/>
<line x1="388.5" y1="509.5" x2="388.5" y2="515.5" stroke="#7a7a7a" stroke-width="1"/>
<line x1="442.5" y1="57.5" x2="442.5" y2="62.5" stroke="#7a7a7a" stroke-width="1"/>
<line x1="442.5" y1="509.5" x2="442.5" y2="515.5" stroke="#7a7a7a" stroke-width="1"/>
<line x1="496.5" y1="57.5" x2="496.5" y2="62.5" stroke="#7a7a7a" stroke-width="1"/>
<line x1="496.5" y1="509.5" x2="496.5" y2="515.5" stroke="#7a7a7a" stroke-width="1"/>
<line x1="550.5" y1="57.5" x2="550.5" y2="62.5" stroke="#7a7a7a" stroke-width="1"/>
<line x1="550.5" y1="509.5" x2="550.5" y2="515.5" stroke="#7a7a7a" stroke-width="1"/>
<line x1="604.5" y1="57.5" x2="604.5" y2="62.5" stroke="#7a7a7a" stroke-width="1"/>
<line x1="604.5" y1="509.5" x2="604.5" y2="515.5" stroke="#7a7a7a" stroke-width="1"/>
<line x1="614.5" y1="57.5" x2="614.5" y2="62.5" stroke="#7a7a7a" stroke-width="1"/>
<line x1="614.5" y1="509.5" x2="614.5" y2="515.5" stroke="#7a7a7a" stroke-width="1"/>
<line x1="66.5" y1="512.5" x2="117.5" y2="512.5" stroke="#777" stroke-width="1"/>
<line x1="117.5" y1="59.9" x2="171.5" y2="59.9" stroke="#b4b4b4" stroke-width="1.7"/>
<line x1="171.5" y1="512.5" x2="225.5" y2="512.5" stroke="#777" stroke-width="1"/>
<line x1="225.5" y1="59.9" x2="279.5" y2="59.9" stroke="#b4b4b4" stroke-width="1.7"/>
<line x1="279.5" y1="512.5" x2="333.5" y2="512.5" stroke="#777" stroke-width="1"/>
<line x1="333.5" y1="59.9" x2="388.5" y2="59.9" stroke="#b4b4b4" stroke-width="1.7"/>
<line x1="388.5" y1="512.5" x2="442.5" y2="512.5" stroke="#777" stroke-width="1"/>
<line x1="442.5" y1="59.9" x2="496.5" y2="59.9" stroke="#b4b4b4" stroke-width="1.7"/>
<line x1="496.5" y1="512.5" x2="550.5" y2="512.5" stroke="#777" stroke-width="1"/>
<line x1="550.5" y1="59.9" x2="604.5" y2="59.9" stroke="#b4b4b4" stroke-width="1.7"/>
<line x1="604.5" y1="512.5" x2="614.5" y2="512.5" stroke="#777" stroke-width="1"/>
<line x1="63.5" y1="70.5" x2="69.5" y2="70.5" stroke="#7a7a7a" stroke-width="1"/>
<line x1="620.5" y1="70.5" x2="625.5" y2="70.5" stroke="#7a7a7a" stroke-width="1"/>
<line x1="63.5" y1="84.5" x2="69.5" y2="84.5" stroke="#7a7a7a" stroke-width="1"/>
<line x1="620.5" y1="84.5" x2="625.5" y2="84.5" stroke="#7a7a7a" stroke-width="1"/>
<line x1="63.5" y1="129.5" x2="69.5" y2="129.5" stroke="#7a7a7a" stroke-width="1"/>
<line x1="620.5" y1="129.5" x2="625.5" y2="129.5" stroke="#7a7a7a" stroke-width="1"/>
<line x1="63.5" y1="174.5" x2="69.5" y2="174.5" stroke="#7a7a7a" stroke-width="1"/>
<line x1="620.5" y1="174.5" x2="625.5" y2="174.5" stroke="#7a7a7a" stroke-width="1"/>
<line x1="63.5" y1="219.5" x2="69.5" y2="219.5" stroke="#7a7a7a" stroke-width="1"/>
<line x1="620.5" y1="219.5" x2="625.5" y2="219.5" stroke="#7a7a7a" stroke-width="1"/>
<line x1="63.5" y1="264.5" x2="69.5" y2="264.5" stroke="#7a7a7a" stroke-width="1"/>
<line x1="620.5" y1="264.5" x2="625.5" y2="264.5" stroke="#7a7a7a" stroke-width="1"/>
<line x1="63.5" y1="309.5" x2="69.5" y2="309.5" stroke="#7a7a7a" stroke-width="1"/>
<line x1="620.5" y1="309.5" x2="625.5" y2="309.5" stroke="#7a7a7a" stroke-width="1"/>
<line x1="63.5" y1="354.5" x2="69.5" y2="354.5" stroke="#7a7a7a" stroke-width="1"/>
<line x1="620.5" y1="354.5" x2="625.5" y2="354.5" stroke="#7a7a7a" stroke-width="1"/>
<line x1="63.5" y1="399.5" x2="69.5" y2="399.5" stroke="#7a7a7a" stroke-width="1"/>
<line x1="620.5" y1="399.5" x2="625.5" y2="399.5" stroke="#7a7a7a" stroke-width="1"/>
<line x1="63.5" y1="443.5" x2="69.5" y2="443.5" stroke="#7a7a7a" stroke-width="1"/>
<line x1="620.5" y1="443.5" x2="625.5" y2="443.5" stroke="#7a7a7a" stroke-width="1"/>
<line x1="63.5" y1="479.5" x2="69.5" y2="479.5" stroke="#7a7a7a" stroke-width="1"/>
<line x1="620.5" y1="479.5" x2="625.5" y2="479.5" stroke="#7a7a7a" stroke-width="1"/>
<line x1="66.5" y1="70.5" x2="66.5" y2="84.5" stroke="#777" stroke-width="1"/>
<line x1="623.1" y1="84.5" x2="623.1" y2="129.5" stroke="#999" stroke-width="1.2"/>
<line x1="66.5" y1="129.5" x2="66.5" y2="174.5" stroke="#777" stroke-width="1"/>
<line x1="623.1" y1="174.5" x2="623.1" y2="219.5" stroke="#999" stroke-width="1.2"/>
<line x1="66.5" y1="219.5" x2="66.5" y2="264.5" stroke="#777" stroke-width="1"/>
<line x1="623.1" y1="264.5" x2="623.1" y2="309.5" stroke="#999" stroke-width="1.2"/>
<line x1="66.5" y1="309.5" x2="66.5" y2="354.5" stroke="#777" stroke-width="1"/>
<line x1="623.1" y1="354.5" x2="623.1" y2="399.5" stroke="#999" stroke-width="1.2"/>
<line x1="66.5" y1="399.5" x2="66.5" y2="443.5" stroke="#777" stroke-width="1"/>
<line x1="623.1" y1="443.5" x2="623.1" y2="479.5" stroke="#999" stroke-width="1.2"/>
<line x1="66.5" y1="479.5" x2="66.5" y2="512.5" stroke="#777" stroke-width="1"/>
<line x1="63.5" y1="515.3" x2="63.5" y2="57.5" stroke="#000" stroke-opacity="0.3" stroke-width="1" stroke-dasharray="6 6" />
<rect x="63" y="51.5" width="2" height="6" fill="#000"/>
<rect x="63" y="515" width="2" height="5.7" fill="#000"/>
<rect x="171" y="51.5" width="2" height="6" fill="#000"/>
<rect x="171" y="515" width="2" height="5.7" fill="#000"/>
<rect x="279" y="51.5" width="2" height="6" fill="#000"/>
<rect x="279" y="515" width="2" height="5.7" fill="#000"/>
<rect x="387" y="51.5" width="2" height="6" fill="#000"/>
<rect x="387" y="515" width="2" height="5.7" fill="#000"/>
<rect x="495" y="51.5" width="2" height="6" fill="#000"/>
<rect x="495" y="515" width="2" height="5.7" fill="#000"/>
<rect x="603" y="51.5" width="2" height="6" fill="#000"/>
<rect x="603" y="515" width="2" height="5.7" fill="#000"/>
<rect x="58" y="83.2" width="5.8" height="2" fill="#000"/>
<rect x="626" y="83.2" width="5.5" height="2" fill="#000"/>
<rect x="58" y="173.2" width="5.8" height="2" fill="#000"/>
<rect x="626" y="173.2" width="5.5" height="2" fill="#000"/>
<rect x="58" y="263.2" width="5.8" height="2" fill="#000"/>
<rect x="626" y="263.2" width="5.5" height="2" fill="#000"/>
<rect x="58" y="353.2" width="5.8" height="2" fill="#000"/>
<rect x="626" y="353.2" width="5.5" height="2" fill="#000"/>
<rect x="58" y="442.2" width="5.8" height="2" fill="#000"/>
<rect x="626" y="442.2" width="5.5" height="2" fill="#000"/>
<path d="M568.2,78.1H579.2V75.9L585.5,78.8L579.2,81.7V79.6H568.2Z" fill="#000"/>
<path d="M549.2,347.9H597.8V349.4H549.2Z M548.7,344.2H550.4V353H548.7Z M597,344.2H598.7V353H597Z" fill="#000"/>
<rect x="640.5" y="57.50" width="20" height="57.67" fill="#800000"/>
<rect x="640.5" y="114.67" width="20" height="57.67" fill="#ff0000"/>
<rect x="640.5" y="171.85" width="20" height="57.67" fill="#ff8000"/>
<rect x="640.5" y="229.02" width="20" height="57.67" fill="#ffff00"/>
<rect x="640.5" y="286.20" width="20" height="57.67" fill="#80ff80"/>
<rect x="640.5" y="343.38" width="20" height="57.67" fill="#00ffff"/>
<rect x="640.5" y="400.55" width="20" height="57.67" fill="#0080ff"/>
<rect x="640.5" y="457.72" width="20" height="57.67" fill="#0000ff"/>
<rect x="640.5" y="57.5" width="20" height="457.4" fill="none" stroke="#111" stroke-width="0.9"/>
</svg>
<div class="t" style="top:6.97px;font-size:20px;letter-spacing:0.085px;left:347.8px;transform:translateX(-50%);">MNTY Totals 25hr mean: From 22&#8211;Nov&#8211;2012 09:00</div>
<div class="t" style="top:29.47px;font-size:20px;letter-spacing:0.05px;left:345.0px;transform:translateX(-50%);">to 23&#8211;Nov&#8211;2012 09:00 GMT+0.000</div>
<div class="t" style="top:78.78px;font-size:16.8px;letter-spacing:0.45px;right:649.9px;">37<span class="sup">o</span>N</div>
<div class="t" style="top:167.15px;font-size:14px;right:646.7px;">50&#8217;</div>
<div class="t" style="top:257.15px;font-size:14px;right:646.7px;">40&#8217;</div>
<div class="t" style="top:347.15px;font-size:14px;right:646.7px;">30&#8217;</div>
<div class="t" style="top:436.15px;font-size:14px;right:646.7px;">20&#8217;</div>
<div class="t" style="top:528.95px;font-size:16.6px;letter-spacing:0.6px;left:64.2px;transform:translateX(-50%);">123<span class="sup">o</span>W</div>
<div class="t" style="top:528.95px;font-size:16.6px;letter-spacing:0.6px;left:496.1px;transform:translateX(-50%);">122<span class="sup">o</span>W</div>
<div class="t" style="top:521.35px;font-size:14px;left:172.8px;transform:translateX(-50%);">45&#8217;</div>
<div class="t" style="top:521.35px;font-size:14px;left:280.8px;transform:translateX(-50%);">30&#8217;</div>
<div class="t" style="top:521.35px;font-size:14px;left:388.8px;transform:translateX(-50%);">15&#8217;</div>
<div class="t" style="top:521.35px;font-size:14px;left:604.8px;transform:translateX(-50%);">45&#8217;</div>
<div class="t" style="top:50.53px;font-size:14.5px;font-weight:bold;letter-spacing:0.3px;left:663.3px;">80</div>
<div class="t" style="top:107.65px;font-size:14.5px;font-weight:bold;letter-spacing:0.3px;left:663.3px;">70</div>
<div class="t" style="top:164.78px;font-size:14.5px;font-weight:bold;letter-spacing:0.3px;left:663.3px;">60</div>
<div class="t" style="top:221.90px;font-size:14.5px;font-weight:bold;letter-spacing:0.3px;left:663.3px;">50</div>
<div class="t" style="top:279.03px;font-size:14.5px;font-weight:bold;letter-spacing:0.3px;left:663.3px;">40</div>
<div class="t" style="top:336.15px;font-size:14.5px;font-weight:bold;letter-spacing:0.3px;left:663.3px;">30</div>
<div class="t" style="top:393.28px;font-size:14.5px;font-weight:bold;letter-spacing:0.3px;left:663.3px;">20</div>
<div class="t" style="top:450.40px;font-size:14.5px;font-weight:bold;letter-spacing:0.3px;left:663.3px;">10</div>
<div class="t" style="top:507.53px;font-size:14.5px;font-weight:bold;letter-spacing:0.3px;left:663.3px;">0</div>
<div class="t" style="top:519.60px;font-size:13.7px;left:636.5px;">cm/s</div>
<div class="t" style="left:689.2px;top:285.6px;font-size:14px;transform:translate(-50%,-50%) rotate(-90deg);">NOTE: Data outside color range will be saturated.</div>
<div class="t" style="top:71.96px;font-size:16px;font-weight:bold;left:504.6px;">25 cm/s</div>
<div class="t" style="top:331.86px;font-size:16px;font-weight:bold;left:573.7px;transform:translateX(-50%);">10 km</div>
</body></html>
